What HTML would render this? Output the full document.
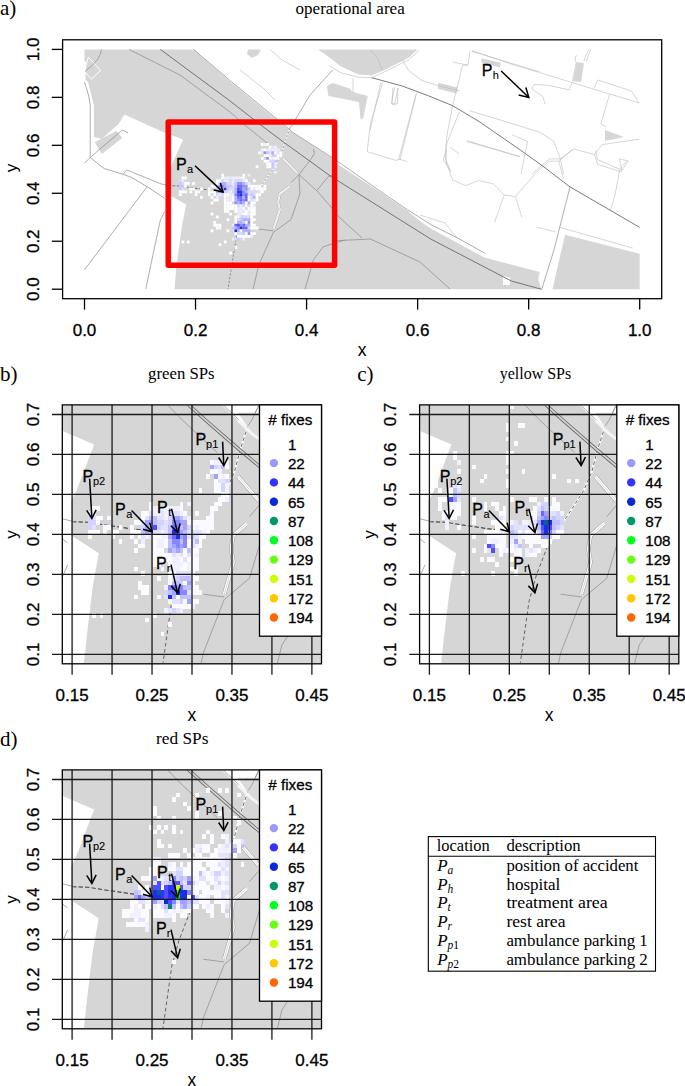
<!DOCTYPE html>
<html><head><meta charset="utf-8"><style>html,body{margin:0;padding:0;background:#fff;}svg{display:block;}</style></head>
<body><svg width="685" height="1086" viewBox="0 0 685 1086"><defs><g id="map"><polygon points="84.5,49.4 193.6,49.4 230.0,81.6 283.0,124.8 292.6,132.8 332.8,158.5 336.7,163.4 380.0,192.0 407.2,210.4 422.0,222.5 430.7,228.5 457.6,243.0 484.5,257.5 539.9,272.0 538.2,279.3 541.5,289.3 174.5,289.3 176.0,270.3 177.6,257.2 182.0,225.3 186.3,204.6 167.9,194.3 167.0,194.0 167.0,173.0 167.7,172.7 171.0,166.8 183.1,139.4 161.2,131.3 124.5,114.6 118.7,124.1 101.9,138.7 93.9,137.2 93.9,105.0 88.0,82.0 85.5,80.0 86.0,62.0 84.5,61.0" fill="#d6d6d6"/>
<polygon points="318.2,49.4 330.0,58.0 341.0,66.5 358.5,74.5 371.6,75.5 386.9,68.7 408.8,57.7 417.5,49.4" fill="#d6d6d6"/>
<polygon points="248.0,49.4 261.0,49.4 258.0,55.0 252.0,58.0 247.0,54.0" fill="#d6d6d6"/>
<polygon points="326.9,85.9 332.8,83.0 350.3,88.8 351.8,91.7 367.8,96.1 366.4,101.9 363.4,118.0 360.5,119.5 359.0,101.9 328.4,96.1" fill="#d6d6d6"/>
<polygon points="438.4,82.7 457.5,87.5 456.5,93.6 437.8,88.8" fill="#d6d6d6"/>
<polygon points="481.2,58.2 500.7,62.8 500.1,67.4 481.5,62.8" fill="#d6d6d6"/>
<polygon points="576.0,62.0 584.0,63.0 581.0,82.0 572.0,81.0" fill="#d6d6d6"/>
<polygon points="605.0,130.0 624.0,137.0 605.0,141.0" fill="#d6d6d6"/>
<polygon points="565.0,234.7 639.7,253.7 639.7,289.3 552.5,289.3" fill="#d6d6d6"/>
<polygon points="94.6,142.3 116.5,130.7 122.3,138.0 101.9,154.0" fill="#d6d6d6"/>
<polygon points="503.0,276.0 510.0,277.5 510.0,285.0 503.0,285.0" fill="#fff"/>
<polyline points="88.3,57.3 100.6,70.4 91.4,79.2 84.4,71.3 88.3,57.3" fill="none" stroke="#fff" stroke-width="1" vector-effect="non-scaling-stroke"/>
<polyline points="283.0,158.5 290.0,165.5 297.4,173.0" fill="none" stroke="#a0a0a0" stroke-width="2.8" stroke-linejoin="round"/>
<polyline points="283.0,158.5 290.0,165.5 297.4,173.0" fill="none" stroke="#fff" stroke-width="2.1" stroke-linejoin="round"/>
<polyline points="283.0,158.5 290.0,165.5 297.4,173.0" fill="none" stroke="#c8c8c8" stroke-width="0.5" stroke-linejoin="round"/>
<polyline points="289.4,186.6 279.8,193.9 278.2,201.9 279.8,209.9 276.6,219.6 273.4,229.2" fill="none" stroke="#a0a0a0" stroke-width="2.8" stroke-linejoin="round"/>
<polyline points="289.4,186.6 279.8,193.9 278.2,201.9 279.8,209.9 276.6,219.6 273.4,229.2" fill="none" stroke="#fff" stroke-width="2.1" stroke-linejoin="round"/>
<polyline points="289.4,186.6 279.8,193.9 278.2,201.9 279.8,209.9 276.6,219.6 273.4,229.2" fill="none" stroke="#c8c8c8" stroke-width="0.5" stroke-linejoin="round"/>
<polyline points="290.0,128.0 284.8,141.8 280.6,155.6 275.0,166.9 262.0,184.3 250.0,200.0" fill="none" stroke="#fff" stroke-width="1.3" stroke-linejoin="round"/>
<polyline points="290.0,128.0 284.8,141.8 280.6,155.6 275.0,166.9 262.0,184.3 250.0,200.0 242.0,218.0 237.0,233.3 231.0,270.0 228.0,289.3" fill="none" stroke="#505050" stroke-width="0.55" stroke-dasharray="2.2,1.6"/>
<polyline points="169.0,185.6 168.4,185.7 179.0,186.0 186.0,187.0 200.0,188.8 207.0,189.7 222.0,191.2" fill="none" stroke="#4a4a4a" stroke-width="0.7" stroke-dasharray="3,1.5"/>
<polyline points="330.0,66.3 341.0,72.8 358.5,77.2 371.6,77.7 386.9,70.7 408.8,59.7 419.8,49.9" fill="none" stroke="#b8b8b8" stroke-width="0.6" vector-effect="non-scaling-stroke"/>
<polyline points="370.5,49.9 377.1,57.5 382.6,70.7" fill="none" stroke="#b8b8b8" stroke-width="0.6" vector-effect="non-scaling-stroke"/>
<polyline points="402.3,59.7 408.8,70.7 422.0,80.5 439.5,86.0 459.8,91.0" fill="none" stroke="#b8b8b8" stroke-width="0.6" vector-effect="non-scaling-stroke"/>
<polyline points="470.1,50.9 467.9,65.2 452.6,61.9" fill="none" stroke="#b8b8b8" stroke-width="0.6" vector-effect="non-scaling-stroke"/>
<polyline points="467.9,65.2 462.5,65.2 459.2,79.4 452.6,105.7 446.6,137.0 445.5,158.9 451.0,172.0" fill="none" stroke="#b8b8b8" stroke-width="0.6" vector-effect="non-scaling-stroke"/>
<polyline points="353.0,78.3 353.0,92.6" fill="none" stroke="#b8b8b8" stroke-width="0.6" vector-effect="non-scaling-stroke"/>
<polyline points="382.6,82.7 370.5,123.2 367.2,151.7 395.7,160.4 400.1,159.3 406.6,161.5" fill="none" stroke="#b8b8b8" stroke-width="0.6" vector-effect="non-scaling-stroke"/>
<polyline points="416.5,93.6 400.1,159.3" fill="none" stroke="#b8b8b8" stroke-width="0.6" vector-effect="non-scaling-stroke"/>
<polyline points="394.6,87.1 391.3,103.5 394.6,104.6 397.9,88.2" fill="none" stroke="#b8b8b8" stroke-width="0.6" vector-effect="non-scaling-stroke"/>
<polyline points="459.2,112.3 446.1,145.1 446.1,162.6 452.6,180.1 465.8,185.6 478.5,180.5 493.0,183.7 504.2,195.0 515.5,196.6 525.1,185.3 536.3,172.5 549.2,161.2 558.8,161.2 571.7,150.0" fill="none" stroke="#b8b8b8" stroke-width="0.6" vector-effect="non-scaling-stroke"/>
<polyline points="450.4,147.3 459.2,153.9" fill="none" stroke="#b8b8b8" stroke-width="0.6" vector-effect="non-scaling-stroke"/>
<polyline points="466.8,140.7 520.0,156.7" fill="none" stroke="#b8b8b8" stroke-width="0.6" vector-effect="non-scaling-stroke"/>
<polyline points="469.6,110.7 520.0,126.0 540.7,132.6 553.8,141.3 560.4,158.9 563.6,174.2" fill="none" stroke="#b8b8b8" stroke-width="0.6" vector-effect="non-scaling-stroke"/>
<polyline points="466.3,141.3 520.0,156.7" fill="none" stroke="#b8b8b8" stroke-width="0.6" vector-effect="non-scaling-stroke"/>
<polyline points="380.9,82.2 370.0,130.4" fill="none" stroke="#b8b8b8" stroke-width="0.6" vector-effect="non-scaling-stroke"/>
<polyline points="393.0,87.7 392.0,104.0 397.4,104.0 398.0,88.0" fill="none" stroke="#b8b8b8" stroke-width="0.6" vector-effect="non-scaling-stroke"/>
<polyline points="416.0,94.3 398.5,160.0" fill="none" stroke="#b8b8b8" stroke-width="0.6" vector-effect="non-scaling-stroke"/>
<polyline points="471.8,50.5 510.0,63.6 639.2,103.0" fill="none" stroke="#b8b8b8" stroke-width="0.6" vector-effect="non-scaling-stroke"/>
<polyline points="597.6,80.0 631.5,91.0 639.2,103.0" fill="none" stroke="#b8b8b8" stroke-width="0.6" vector-effect="non-scaling-stroke"/>
<polyline points="597.6,80.0 594.3,87.7" fill="none" stroke="#b8b8b8" stroke-width="0.6" vector-effect="non-scaling-stroke"/>
<polyline points="572.4,82.2 569.1,89.9 549.4,85.5 534.1,84.4 531.9,88.8 542.8,96.5 545.0,104.1" fill="none" stroke="#b8b8b8" stroke-width="0.6" vector-effect="non-scaling-stroke"/>
<polyline points="609.6,94.3 600.9,123.8 606.3,127.1" fill="none" stroke="#b8b8b8" stroke-width="0.6" vector-effect="non-scaling-stroke"/>
<polyline points="560.4,158.9 573.5,149.0 594.3,154.5 602.0,144.6 639.2,139.2" fill="none" stroke="#b8b8b8" stroke-width="0.6" vector-effect="non-scaling-stroke"/>
<polyline points="594.3,154.5 597.6,164.3 621.7,172.0" fill="none" stroke="#b8b8b8" stroke-width="0.6" vector-effect="non-scaling-stroke"/>
<polyline points="619.5,158.9 628.2,161.0 621.7,170.9 619.5,158.9" fill="none" stroke="#b8b8b8" stroke-width="0.6" vector-effect="non-scaling-stroke"/>
<polyline points="512.2,134.8 527.5,141.3 521.0,174.2" fill="none" stroke="#b8b8b8" stroke-width="0.6" vector-effect="non-scaling-stroke"/>
<polyline points="531.9,174.2 549.4,158.9 560.4,158.9" fill="none" stroke="#b8b8b8" stroke-width="0.6" vector-effect="non-scaling-stroke"/>
<polyline points="446.4,150.0 443.2,159.6 449.6,169.3" fill="none" stroke="#b8b8b8" stroke-width="0.6" vector-effect="non-scaling-stroke"/>
<polyline points="504.2,195.0 494.6,222.3" fill="none" stroke="#b8b8b8" stroke-width="0.6" vector-effect="non-scaling-stroke"/>
<polyline points="515.5,196.6 521.9,217.4" fill="none" stroke="#b8b8b8" stroke-width="0.6" vector-effect="non-scaling-stroke"/>
<polyline points="558.8,161.2 563.6,178.9" fill="none" stroke="#b8b8b8" stroke-width="0.6" vector-effect="non-scaling-stroke"/>
<polyline points="595.7,150.0 597.4,159.6 619.8,169.3 626.3,161.2" fill="none" stroke="#b8b8b8" stroke-width="0.6" vector-effect="non-scaling-stroke"/>
<polyline points="619.8,169.3 615.0,195.0 610.2,211.0" fill="none" stroke="#b8b8b8" stroke-width="0.6" vector-effect="non-scaling-stroke"/>
<polyline points="536.3,227.1 555.6,231.9" fill="none" stroke="#b8b8b8" stroke-width="0.6" vector-effect="non-scaling-stroke"/>
<polyline points="558.8,227.1 632.7,248.0" fill="none" stroke="#b8b8b8" stroke-width="0.6" vector-effect="non-scaling-stroke"/>
<polyline points="472.0,51.5 540.0,72.0" fill="none" stroke="#b8b8b8" stroke-width="0.6" vector-effect="non-scaling-stroke"/>
<polyline points="575.5,62.0 575.0,57.0 577.0,55.5" fill="none" stroke="#b8b8b8" stroke-width="0.6" vector-effect="non-scaling-stroke"/>
<polyline points="584.0,61.0 586.0,55.0 589.0,49.4" fill="none" stroke="#b8b8b8" stroke-width="0.6" vector-effect="non-scaling-stroke"/>
<polyline points="586.5,61.5 588.5,55.0 591.0,49.4" fill="none" stroke="#b8b8b8" stroke-width="0.6" vector-effect="non-scaling-stroke"/>
<polyline points="420.0,215.0 445.0,223.0 457.0,238.0" fill="none" stroke="#b8b8b8" stroke-width="0.6" vector-effect="non-scaling-stroke"/>
<polyline points="270.0,49.4 282.0,60.0 300.0,70.0" fill="none" stroke="#b8b8b8" stroke-width="0.6" vector-effect="non-scaling-stroke"/>
<polyline points="240.0,70.0 263.0,88.0 275.0,100.0" fill="none" stroke="#b8b8b8" stroke-width="0.6" vector-effect="non-scaling-stroke"/>
<polyline points="193.6,49.4 230.0,80.5 283.0,124.0 292.6,132.3 332.8,158.0 380.0,191.0 407.2,209.5 430.7,224.5 457.6,238.0 484.5,253.0" fill="none" stroke="#8a8a8a" stroke-width="0.7" vector-effect="non-scaling-stroke"/>
<polyline points="332.8,69.8 310.0,95.0 296.3,118.0 292.6,124.8 290.0,128.0" fill="none" stroke="#8a8a8a" stroke-width="0.7" vector-effect="non-scaling-stroke"/>
<polyline points="90.2,140.0 90.2,157.5 84.4,163.4" fill="none" stroke="#8a8a8a" stroke-width="0.7" vector-effect="non-scaling-stroke"/>
<polyline points="90.2,157.5 104.1,168.5 123.1,174.3 131.1,177.2 147.2,186.7 164.7,198.4" fill="none" stroke="#8a8a8a" stroke-width="0.7" vector-effect="non-scaling-stroke"/>
<polyline points="147.2,186.7 84.4,269.9" fill="none" stroke="#8a8a8a" stroke-width="0.7" vector-effect="non-scaling-stroke"/>
<polyline points="123.1,174.3 126.7,169.9 161.0,183.9 169.0,185.6" fill="none" stroke="#8a8a8a" stroke-width="0.7" vector-effect="non-scaling-stroke"/>
<polyline points="164.7,211.5 160.3,220.3 145.7,289.0" fill="none" stroke="#8a8a8a" stroke-width="0.7" vector-effect="non-scaling-stroke"/>
<polyline points="90.2,157.5 122.3,130.0 128.2,133.0" fill="none" stroke="#8a8a8a" stroke-width="0.7" vector-effect="non-scaling-stroke"/>
<polyline points="84.5,82.0 88.5,95.0 90.2,105.0 90.2,140.0" fill="none" stroke="#8a8a8a" stroke-width="0.7" vector-effect="non-scaling-stroke"/>
<polyline points="570.0,186.9 554.0,249.9 541.8,289.0" fill="none" stroke="#8a8a8a" stroke-width="0.7" vector-effect="non-scaling-stroke"/>
<polyline points="129.0,49.4 180.0,75.0 230.0,112.0 244.5,124.8 268.5,144.1" fill="none" stroke="#8a8a8a" stroke-width="0.7" vector-effect="non-scaling-stroke"/>
<polyline points="313.5,148.9 314.3,153.7 310.3,160.1 299.0,174.6 291.0,182.6" fill="none" stroke="#8a8a8a" stroke-width="0.7" vector-effect="non-scaling-stroke"/>
<polyline points="299.0,174.6 299.9,193.9 291.0,219.6 273.4,232.4 258.9,264.5 253.0,289.3" fill="none" stroke="#8a8a8a" stroke-width="0.7" vector-effect="non-scaling-stroke"/>
<polyline points="299.0,174.6 316.7,190.7 328.0,203.5 340.0,218.0 362.0,238.0" fill="none" stroke="#8a8a8a" stroke-width="0.7" vector-effect="non-scaling-stroke"/>
<polyline points="316.7,190.7 328.0,177.0 336.7,173.0" fill="none" stroke="#8a8a8a" stroke-width="0.7" vector-effect="non-scaling-stroke"/>
<polyline points="273.4,230.8 258.9,229.2" fill="none" stroke="#8a8a8a" stroke-width="0.7" vector-effect="non-scaling-stroke"/>
<polyline points="345.0,240.0 332.8,243.7 323.1,246.9 313.5,259.7 305.0,289.3" fill="none" stroke="#8a8a8a" stroke-width="0.7" vector-effect="non-scaling-stroke"/>
<polyline points="336.7,240.7 370.3,239.0 420.0,262.0 450.0,289.0" fill="none" stroke="#8a8a8a" stroke-width="0.7" vector-effect="non-scaling-stroke"/>
<polyline points="101.5,49.4 100.5,54.0 97.5,59.5 92.0,65.5 85.0,71.5" fill="none" stroke="#8a8a8a" stroke-width="0.7" vector-effect="non-scaling-stroke"/>
<polyline points="160.3,49.4 230.0,100.9 260.5,124.8 283.0,141.7 332.8,177.8 336.7,180.0 430.7,239.0 511.3,281.0 541.5,289.3" fill="none" stroke="#5a5a5a" stroke-width="0.8" vector-effect="non-scaling-stroke"/>
<polyline points="371.6,77.7 402.3,86.0 428.5,95.8 452.6,105.7 480.0,122.1 490.4,129.3 520.3,150.0 542.8,166.1 570.0,186.9 639.7,227.4" fill="none" stroke="#5a5a5a" stroke-width="0.8" vector-effect="non-scaling-stroke"/></g><filter id="blurH" x="-5%" y="-5%" width="110%" height="110%"><feGaussianBlur stdDeviation="0.45"/></filter><filter id="blurA" x="-5%" y="-5%" width="110%" height="110%"><feGaussianBlur stdDeviation="0.3"/></filter><filter id="blurM" x="0" y="0" width="100%" height="100%"><feGaussianBlur stdDeviation="0.35"/></filter><clipPath id="clipA"><rect x="63.2" y="40.4" width="597.9" height="257.7"/></clipPath><clipPath id="clipB"><rect x="62.9" y="405.5" width="258" height="257.6"/></clipPath></defs>
<text x="0.00" y="15.00" font-family="'Liberation Serif', serif" font-size="21" text-anchor="start" font-weight="normal" font-style="normal" fill="#000">a)</text>
<text x="295.6" y="13.9" font-family="'Liberation Serif', serif" font-size="16.5" textLength="109.1" lengthAdjust="spacingAndGlyphs">operational area</text>
<g clip-path="url(#clipA)"><use href="#map"/><g filter="url(#blurA)"><rect x="178.91" y="179.27" width="2.70" height="2.83" fill="#d9d9ff"/><rect x="178.91" y="182.05" width="2.70" height="2.83" fill="#c7c7ff"/><rect x="178.91" y="184.84" width="2.70" height="2.83" fill="#c7c7ff"/><rect x="178.91" y="187.62" width="2.70" height="2.83" fill="#c7c7ff"/><rect x="178.91" y="190.41" width="2.70" height="2.83" fill="#ffffff"/><rect x="178.91" y="193.19" width="2.70" height="2.83" fill="#ffffff"/><rect x="181.56" y="176.49" width="2.70" height="2.83" fill="#ffffff"/><rect x="181.56" y="179.27" width="2.70" height="2.83" fill="#ececff"/><rect x="181.56" y="182.05" width="2.70" height="2.83" fill="#d9d9ff"/><rect x="181.56" y="184.84" width="2.70" height="2.83" fill="#c7c7ff"/><rect x="181.56" y="187.62" width="2.70" height="2.83" fill="#d9d9ff"/><rect x="181.56" y="190.41" width="2.70" height="2.83" fill="#ffffff"/><rect x="181.56" y="240.51" width="2.70" height="2.83" fill="#ffffff"/><rect x="184.20" y="176.49" width="2.70" height="2.83" fill="#ffffff"/><rect x="184.20" y="182.05" width="2.70" height="2.83" fill="#ffffff"/><rect x="184.20" y="184.84" width="2.70" height="2.83" fill="#ffffff"/><rect x="184.20" y="190.41" width="2.70" height="2.83" fill="#ffffff"/><rect x="186.85" y="182.05" width="2.70" height="2.83" fill="#ffffff"/><rect x="186.85" y="240.51" width="2.70" height="2.83" fill="#ffffff"/><rect x="189.50" y="187.62" width="2.70" height="2.83" fill="#ffffff"/><rect x="189.50" y="190.41" width="2.70" height="2.83" fill="#ffffff"/><rect x="192.14" y="182.05" width="2.70" height="2.83" fill="#ffffff"/><rect x="192.14" y="187.62" width="2.70" height="2.83" fill="#ffffff"/><rect x="194.79" y="190.41" width="2.70" height="2.83" fill="#ffffff"/><rect x="194.79" y="193.19" width="2.70" height="2.83" fill="#ffffff"/><rect x="197.44" y="190.41" width="2.70" height="2.83" fill="#ffffff"/><rect x="200.08" y="187.62" width="2.70" height="2.83" fill="#ffffff"/><rect x="200.08" y="195.97" width="2.70" height="2.83" fill="#ffffff"/><rect x="208.02" y="187.62" width="2.70" height="2.83" fill="#ffffff"/><rect x="208.02" y="190.41" width="2.70" height="2.83" fill="#ffffff"/><rect x="208.02" y="193.19" width="2.70" height="2.83" fill="#ffffff"/><rect x="210.67" y="184.84" width="2.70" height="2.83" fill="#ffffff"/><rect x="210.67" y="190.41" width="2.70" height="2.83" fill="#ffffff"/><rect x="210.67" y="195.97" width="2.70" height="2.83" fill="#ffffff"/><rect x="210.67" y="201.54" width="2.70" height="2.83" fill="#ffffff"/><rect x="210.67" y="212.68" width="2.70" height="2.83" fill="#ffffff"/><rect x="210.67" y="229.38" width="2.70" height="2.83" fill="#ffffff"/><rect x="213.31" y="184.84" width="2.70" height="2.83" fill="#ffffff"/><rect x="213.31" y="190.41" width="2.70" height="2.83" fill="#ffffff"/><rect x="213.31" y="193.19" width="2.70" height="2.83" fill="#ffffff"/><rect x="213.31" y="198.76" width="2.70" height="2.83" fill="#ffffff"/><rect x="213.31" y="221.03" width="2.70" height="2.83" fill="#ffffff"/><rect x="213.31" y="223.81" width="2.70" height="2.83" fill="#ffffff"/><rect x="215.96" y="179.27" width="2.70" height="2.83" fill="#ffffff"/><rect x="215.96" y="182.05" width="2.70" height="2.83" fill="#ffffff"/><rect x="215.96" y="184.84" width="2.70" height="2.83" fill="#d9d9ff"/><rect x="215.96" y="187.62" width="2.70" height="2.83" fill="#c7c7ff"/><rect x="215.96" y="190.41" width="2.70" height="2.83" fill="#afafff"/><rect x="215.96" y="193.19" width="2.70" height="2.83" fill="#d9d9ff"/><rect x="215.96" y="195.97" width="2.70" height="2.83" fill="#ececff"/><rect x="215.96" y="198.76" width="2.70" height="2.83" fill="#ffffff"/><rect x="215.96" y="215.46" width="2.70" height="2.83" fill="#ffffff"/><rect x="215.96" y="223.81" width="2.70" height="2.83" fill="#ffffff"/><rect x="215.96" y="226.59" width="2.70" height="2.83" fill="#ffffff"/><rect x="218.61" y="179.27" width="2.70" height="2.83" fill="#ffffff"/><rect x="218.61" y="182.05" width="2.70" height="2.83" fill="#d9d9ff"/><rect x="218.61" y="184.84" width="2.70" height="2.83" fill="#8b8bff"/><rect x="218.61" y="187.62" width="2.70" height="2.83" fill="#8b8bff"/><rect x="218.61" y="190.41" width="2.70" height="2.83" fill="#8b8bff"/><rect x="218.61" y="193.19" width="2.70" height="2.83" fill="#ececff"/><rect x="218.61" y="223.81" width="2.70" height="2.83" fill="#ffffff"/><rect x="218.61" y="226.59" width="2.70" height="2.83" fill="#ffffff"/><rect x="218.61" y="243.30" width="2.70" height="2.83" fill="#ffffff"/><rect x="221.25" y="173.70" width="2.70" height="2.83" fill="#ffffff"/><rect x="221.25" y="176.49" width="2.70" height="2.83" fill="#ffffff"/><rect x="221.25" y="179.27" width="2.70" height="2.83" fill="#d9d9ff"/><rect x="221.25" y="182.05" width="2.70" height="2.83" fill="#afafff"/><rect x="221.25" y="184.84" width="2.70" height="2.83" fill="#8b8bff"/><rect x="221.25" y="187.62" width="2.70" height="2.83" fill="#afafff"/><rect x="221.25" y="190.41" width="2.70" height="2.83" fill="#afafff"/><rect x="221.25" y="193.19" width="2.70" height="2.83" fill="#d9d9ff"/><rect x="223.90" y="176.49" width="2.70" height="2.83" fill="#ececff"/><rect x="223.90" y="179.27" width="2.70" height="2.83" fill="#ececff"/><rect x="223.90" y="182.05" width="2.70" height="2.83" fill="#afafff"/><rect x="223.90" y="184.84" width="2.70" height="2.83" fill="#afafff"/><rect x="223.90" y="187.62" width="2.70" height="2.83" fill="#2c32f8"/><rect x="223.90" y="190.41" width="2.70" height="2.83" fill="#d9d9ff"/><rect x="223.90" y="193.19" width="2.70" height="2.83" fill="#ffffff"/><rect x="223.90" y="195.97" width="2.70" height="2.83" fill="#ffffff"/><rect x="223.90" y="198.76" width="2.70" height="2.83" fill="#ffffff"/><rect x="223.90" y="201.54" width="2.70" height="2.83" fill="#ffffff"/><rect x="223.90" y="204.32" width="2.70" height="2.83" fill="#ffffff"/><rect x="223.90" y="207.11" width="2.70" height="2.83" fill="#ffffff"/><rect x="223.90" y="209.89" width="2.70" height="2.83" fill="#ffffff"/><rect x="223.90" y="240.51" width="2.70" height="2.83" fill="#ffffff"/><rect x="226.55" y="176.49" width="2.70" height="2.83" fill="#ececff"/><rect x="226.55" y="179.27" width="2.70" height="2.83" fill="#ececff"/><rect x="226.55" y="182.05" width="2.70" height="2.83" fill="#d9d9ff"/><rect x="226.55" y="184.84" width="2.70" height="2.83" fill="#c7c7ff"/><rect x="226.55" y="187.62" width="2.70" height="2.83" fill="#c7c7ff"/><rect x="226.55" y="190.41" width="2.70" height="2.83" fill="#d9d9ff"/><rect x="226.55" y="193.19" width="2.70" height="2.83" fill="#ffffff"/><rect x="226.55" y="195.97" width="2.70" height="2.83" fill="#ececff"/><rect x="226.55" y="198.76" width="2.70" height="2.83" fill="#ececff"/><rect x="226.55" y="201.54" width="2.70" height="2.83" fill="#ffffff"/><rect x="226.55" y="204.32" width="2.70" height="2.83" fill="#ffffff"/><rect x="226.55" y="207.11" width="2.70" height="2.83" fill="#ffffff"/><rect x="226.55" y="209.89" width="2.70" height="2.83" fill="#ffffff"/><rect x="226.55" y="218.24" width="2.70" height="2.83" fill="#ffffff"/><rect x="226.55" y="229.38" width="2.70" height="2.83" fill="#ffffff"/><rect x="229.19" y="176.49" width="2.70" height="2.83" fill="#ececff"/><rect x="229.19" y="179.27" width="2.70" height="2.83" fill="#d9d9ff"/><rect x="229.19" y="182.05" width="2.70" height="2.83" fill="#d9d9ff"/><rect x="229.19" y="184.84" width="2.70" height="2.83" fill="#c7c7ff"/><rect x="229.19" y="187.62" width="2.70" height="2.83" fill="#d9d9ff"/><rect x="229.19" y="190.41" width="2.70" height="2.83" fill="#ececff"/><rect x="229.19" y="193.19" width="2.70" height="2.83" fill="#ececff"/><rect x="229.19" y="195.97" width="2.70" height="2.83" fill="#ececff"/><rect x="229.19" y="198.76" width="2.70" height="2.83" fill="#ececff"/><rect x="229.19" y="201.54" width="2.70" height="2.83" fill="#ffffff"/><rect x="229.19" y="204.32" width="2.70" height="2.83" fill="#ffffff"/><rect x="229.19" y="207.11" width="2.70" height="2.83" fill="#ffffff"/><rect x="229.19" y="212.68" width="2.70" height="2.83" fill="#ffffff"/><rect x="229.19" y="251.65" width="2.70" height="2.83" fill="#ffffff"/><rect x="231.84" y="176.49" width="2.70" height="2.83" fill="#ececff"/><rect x="231.84" y="179.27" width="2.70" height="2.83" fill="#ececff"/><rect x="231.84" y="182.05" width="2.70" height="2.83" fill="#ececff"/><rect x="231.84" y="184.84" width="2.70" height="2.83" fill="#d9d9ff"/><rect x="231.84" y="187.62" width="2.70" height="2.83" fill="#d9d9ff"/><rect x="231.84" y="190.41" width="2.70" height="2.83" fill="#d9d9ff"/><rect x="231.84" y="193.19" width="2.70" height="2.83" fill="#ececff"/><rect x="231.84" y="195.97" width="2.70" height="2.83" fill="#ffffff"/><rect x="231.84" y="198.76" width="2.70" height="2.83" fill="#ffffff"/><rect x="231.84" y="204.32" width="2.70" height="2.83" fill="#ffffff"/><rect x="231.84" y="207.11" width="2.70" height="2.83" fill="#ffffff"/><rect x="231.84" y="223.81" width="2.70" height="2.83" fill="#ececff"/><rect x="231.84" y="226.59" width="2.70" height="2.83" fill="#c7c7ff"/><rect x="231.84" y="229.38" width="2.70" height="2.83" fill="#d9d9ff"/><rect x="231.84" y="237.73" width="2.70" height="2.83" fill="#ececff"/><rect x="234.49" y="176.49" width="2.70" height="2.83" fill="#ececff"/><rect x="234.49" y="179.27" width="2.70" height="2.83" fill="#d9d9ff"/><rect x="234.49" y="182.05" width="2.70" height="2.83" fill="#c7c7ff"/><rect x="234.49" y="184.84" width="2.70" height="2.83" fill="#c7c7ff"/><rect x="234.49" y="187.62" width="2.70" height="2.83" fill="#afafff"/><rect x="234.49" y="190.41" width="2.70" height="2.83" fill="#afafff"/><rect x="234.49" y="193.19" width="2.70" height="2.83" fill="#8b8bff"/><rect x="234.49" y="195.97" width="2.70" height="2.83" fill="#afafff"/><rect x="234.49" y="198.76" width="2.70" height="2.83" fill="#afafff"/><rect x="234.49" y="201.54" width="2.70" height="2.83" fill="#8b8bff"/><rect x="234.49" y="204.32" width="2.70" height="2.83" fill="#ffffff"/><rect x="234.49" y="207.11" width="2.70" height="2.83" fill="#ffffff"/><rect x="234.49" y="209.89" width="2.70" height="2.83" fill="#ffffff"/><rect x="234.49" y="215.46" width="2.70" height="2.83" fill="#ffffff"/><rect x="234.49" y="218.24" width="2.70" height="2.83" fill="#ffffff"/><rect x="234.49" y="221.03" width="2.70" height="2.83" fill="#ffffff"/><rect x="234.49" y="223.81" width="2.70" height="2.83" fill="#6868ff"/><rect x="234.49" y="226.59" width="2.70" height="2.83" fill="#afafff"/><rect x="234.49" y="229.38" width="2.70" height="2.83" fill="#182de4"/><rect x="234.49" y="232.16" width="2.70" height="2.83" fill="#ffffff"/><rect x="234.49" y="237.73" width="2.70" height="2.83" fill="#d9d9ff"/><rect x="234.49" y="246.08" width="2.70" height="2.83" fill="#ffffff"/><rect x="237.13" y="176.49" width="2.70" height="2.83" fill="#ececff"/><rect x="237.13" y="179.27" width="2.70" height="2.83" fill="#d9d9ff"/><rect x="237.13" y="182.05" width="2.70" height="2.83" fill="#8b8bff"/><rect x="237.13" y="184.84" width="2.70" height="2.83" fill="#6868ff"/><rect x="237.13" y="187.62" width="2.70" height="2.83" fill="#4646ff"/><rect x="237.13" y="190.41" width="2.70" height="2.83" fill="#182de4"/><rect x="237.13" y="193.19" width="2.70" height="2.83" fill="#4646ff"/><rect x="237.13" y="195.97" width="2.70" height="2.83" fill="#6868ff"/><rect x="237.13" y="198.76" width="2.70" height="2.83" fill="#8b8bff"/><rect x="237.13" y="201.54" width="2.70" height="2.83" fill="#afafff"/><rect x="237.13" y="204.32" width="2.70" height="2.83" fill="#d9d9ff"/><rect x="237.13" y="207.11" width="2.70" height="2.83" fill="#ececff"/><rect x="237.13" y="209.89" width="2.70" height="2.83" fill="#ececff"/><rect x="237.13" y="212.68" width="2.70" height="2.83" fill="#ececff"/><rect x="237.13" y="215.46" width="2.70" height="2.83" fill="#ffffff"/><rect x="237.13" y="218.24" width="2.70" height="2.83" fill="#d9d9ff"/><rect x="237.13" y="221.03" width="2.70" height="2.83" fill="#afafff"/><rect x="237.13" y="223.81" width="2.70" height="2.83" fill="#4646ff"/><rect x="237.13" y="226.59" width="2.70" height="2.83" fill="#8b8bff"/><rect x="237.13" y="229.38" width="2.70" height="2.83" fill="#afafff"/><rect x="237.13" y="232.16" width="2.70" height="2.83" fill="#d9d9ff"/><rect x="237.13" y="234.95" width="2.70" height="2.83" fill="#ffffff"/><rect x="237.13" y="237.73" width="2.70" height="2.83" fill="#c7c7ff"/><rect x="239.78" y="176.49" width="2.70" height="2.83" fill="#ececff"/><rect x="239.78" y="179.27" width="2.70" height="2.83" fill="#d9d9ff"/><rect x="239.78" y="182.05" width="2.70" height="2.83" fill="#8b8bff"/><rect x="239.78" y="184.84" width="2.70" height="2.83" fill="#6868ff"/><rect x="239.78" y="187.62" width="2.70" height="2.83" fill="#6868ff"/><rect x="239.78" y="190.41" width="2.70" height="2.83" fill="#2c32f8"/><rect x="239.78" y="193.19" width="2.70" height="2.83" fill="#182de4"/><rect x="239.78" y="195.97" width="2.70" height="2.83" fill="#6868ff"/><rect x="239.78" y="198.76" width="2.70" height="2.83" fill="#6868ff"/><rect x="239.78" y="201.54" width="2.70" height="2.83" fill="#8b8bff"/><rect x="239.78" y="204.32" width="2.70" height="2.83" fill="#ececff"/><rect x="239.78" y="207.11" width="2.70" height="2.83" fill="#ececff"/><rect x="239.78" y="209.89" width="2.70" height="2.83" fill="#ececff"/><rect x="239.78" y="212.68" width="2.70" height="2.83" fill="#ececff"/><rect x="239.78" y="215.46" width="2.70" height="2.83" fill="#d9d9ff"/><rect x="239.78" y="218.24" width="2.70" height="2.83" fill="#c7c7ff"/><rect x="239.78" y="221.03" width="2.70" height="2.83" fill="#afafff"/><rect x="239.78" y="223.81" width="2.70" height="2.83" fill="#8b8bff"/><rect x="239.78" y="226.59" width="2.70" height="2.83" fill="#182de4"/><rect x="239.78" y="229.38" width="2.70" height="2.83" fill="#ffffff"/><rect x="239.78" y="232.16" width="2.70" height="2.83" fill="#d9d9ff"/><rect x="239.78" y="234.95" width="2.70" height="2.83" fill="#ffffff"/><rect x="239.78" y="237.73" width="2.70" height="2.83" fill="#d9d9ff"/><rect x="242.43" y="173.70" width="2.70" height="2.83" fill="#ffffff"/><rect x="242.43" y="176.49" width="2.70" height="2.83" fill="#ffffff"/><rect x="242.43" y="179.27" width="2.70" height="2.83" fill="#ececff"/><rect x="242.43" y="182.05" width="2.70" height="2.83" fill="#afafff"/><rect x="242.43" y="184.84" width="2.70" height="2.83" fill="#8b8bff"/><rect x="242.43" y="187.62" width="2.70" height="2.83" fill="#afafff"/><rect x="242.43" y="190.41" width="2.70" height="2.83" fill="#8b8bff"/><rect x="242.43" y="193.19" width="2.70" height="2.83" fill="#8b8bff"/><rect x="242.43" y="195.97" width="2.70" height="2.83" fill="#afafff"/><rect x="242.43" y="198.76" width="2.70" height="2.83" fill="#8b8bff"/><rect x="242.43" y="201.54" width="2.70" height="2.83" fill="#afafff"/><rect x="242.43" y="204.32" width="2.70" height="2.83" fill="#d9d9ff"/><rect x="242.43" y="207.11" width="2.70" height="2.83" fill="#ffffff"/><rect x="242.43" y="209.89" width="2.70" height="2.83" fill="#ececff"/><rect x="242.43" y="212.68" width="2.70" height="2.83" fill="#ffffff"/><rect x="242.43" y="215.46" width="2.70" height="2.83" fill="#d9d9ff"/><rect x="242.43" y="218.24" width="2.70" height="2.83" fill="#afafff"/><rect x="242.43" y="221.03" width="2.70" height="2.83" fill="#c7c7ff"/><rect x="242.43" y="223.81" width="2.70" height="2.83" fill="#6868ff"/><rect x="242.43" y="226.59" width="2.70" height="2.83" fill="#6868ff"/><rect x="242.43" y="229.38" width="2.70" height="2.83" fill="#afafff"/><rect x="242.43" y="232.16" width="2.70" height="2.83" fill="#c7c7ff"/><rect x="242.43" y="234.95" width="2.70" height="2.83" fill="#ffffff"/><rect x="242.43" y="237.73" width="2.70" height="2.83" fill="#ececff"/><rect x="245.07" y="179.27" width="2.70" height="2.83" fill="#ffffff"/><rect x="245.07" y="182.05" width="2.70" height="2.83" fill="#d9d9ff"/><rect x="245.07" y="184.84" width="2.70" height="2.83" fill="#8b8bff"/><rect x="245.07" y="187.62" width="2.70" height="2.83" fill="#8b8bff"/><rect x="245.07" y="190.41" width="2.70" height="2.83" fill="#afafff"/><rect x="245.07" y="193.19" width="2.70" height="2.83" fill="#6868ff"/><rect x="245.07" y="195.97" width="2.70" height="2.83" fill="#6868ff"/><rect x="245.07" y="198.76" width="2.70" height="2.83" fill="#6868ff"/><rect x="245.07" y="201.54" width="2.70" height="2.83" fill="#ffffff"/><rect x="245.07" y="204.32" width="2.70" height="2.83" fill="#ffffff"/><rect x="245.07" y="207.11" width="2.70" height="2.83" fill="#d9d9ff"/><rect x="245.07" y="209.89" width="2.70" height="2.83" fill="#ffffff"/><rect x="245.07" y="212.68" width="2.70" height="2.83" fill="#ffffff"/><rect x="245.07" y="215.46" width="2.70" height="2.83" fill="#d9d9ff"/><rect x="245.07" y="218.24" width="2.70" height="2.83" fill="#afafff"/><rect x="245.07" y="221.03" width="2.70" height="2.83" fill="#ffffff"/><rect x="245.07" y="223.81" width="2.70" height="2.83" fill="#afafff"/><rect x="245.07" y="226.59" width="2.70" height="2.83" fill="#6868ff"/><rect x="245.07" y="229.38" width="2.70" height="2.83" fill="#afafff"/><rect x="245.07" y="232.16" width="2.70" height="2.83" fill="#ffffff"/><rect x="245.07" y="234.95" width="2.70" height="2.83" fill="#ffffff"/><rect x="247.72" y="173.70" width="2.70" height="2.83" fill="#ececff"/><rect x="247.72" y="182.05" width="2.70" height="2.83" fill="#ececff"/><rect x="247.72" y="184.84" width="2.70" height="2.83" fill="#ffffff"/><rect x="247.72" y="187.62" width="2.70" height="2.83" fill="#c7c7ff"/><rect x="247.72" y="190.41" width="2.70" height="2.83" fill="#d9d9ff"/><rect x="247.72" y="193.19" width="2.70" height="2.83" fill="#d9d9ff"/><rect x="247.72" y="195.97" width="2.70" height="2.83" fill="#ffffff"/><rect x="247.72" y="198.76" width="2.70" height="2.83" fill="#ffffff"/><rect x="247.72" y="201.54" width="2.70" height="2.83" fill="#afafff"/><rect x="247.72" y="204.32" width="2.70" height="2.83" fill="#d9d9ff"/><rect x="247.72" y="207.11" width="2.70" height="2.83" fill="#ffffff"/><rect x="247.72" y="209.89" width="2.70" height="2.83" fill="#ececff"/><rect x="247.72" y="212.68" width="2.70" height="2.83" fill="#ececff"/><rect x="247.72" y="215.46" width="2.70" height="2.83" fill="#d9d9ff"/><rect x="247.72" y="218.24" width="2.70" height="2.83" fill="#afafff"/><rect x="247.72" y="221.03" width="2.70" height="2.83" fill="#8b8bff"/><rect x="247.72" y="223.81" width="2.70" height="2.83" fill="#afafff"/><rect x="247.72" y="226.59" width="2.70" height="2.83" fill="#d9d9ff"/><rect x="247.72" y="229.38" width="2.70" height="2.83" fill="#afafff"/><rect x="247.72" y="232.16" width="2.70" height="2.83" fill="#8b8bff"/><rect x="247.72" y="234.95" width="2.70" height="2.83" fill="#ffffff"/><rect x="250.36" y="184.84" width="2.70" height="2.83" fill="#ffffff"/><rect x="250.36" y="187.62" width="2.70" height="2.83" fill="#ffffff"/><rect x="250.36" y="190.41" width="2.70" height="2.83" fill="#d9d9ff"/><rect x="250.36" y="193.19" width="2.70" height="2.83" fill="#c7c7ff"/><rect x="250.36" y="195.97" width="2.70" height="2.83" fill="#d9d9ff"/><rect x="250.36" y="198.76" width="2.70" height="2.83" fill="#d9d9ff"/><rect x="250.36" y="201.54" width="2.70" height="2.83" fill="#ffffff"/><rect x="250.36" y="204.32" width="2.70" height="2.83" fill="#ffffff"/><rect x="250.36" y="207.11" width="2.70" height="2.83" fill="#ffffff"/><rect x="250.36" y="209.89" width="2.70" height="2.83" fill="#ffffff"/><rect x="250.36" y="212.68" width="2.70" height="2.83" fill="#ffffff"/><rect x="250.36" y="215.46" width="2.70" height="2.83" fill="#ffffff"/><rect x="250.36" y="218.24" width="2.70" height="2.83" fill="#ffffff"/><rect x="250.36" y="221.03" width="2.70" height="2.83" fill="#ffffff"/><rect x="250.36" y="223.81" width="2.70" height="2.83" fill="#ffffff"/><rect x="250.36" y="226.59" width="2.70" height="2.83" fill="#ffffff"/><rect x="250.36" y="232.16" width="2.70" height="2.83" fill="#ffffff"/><rect x="250.36" y="234.95" width="2.70" height="2.83" fill="#ececff"/><rect x="253.01" y="179.27" width="2.70" height="2.83" fill="#ffffff"/><rect x="253.01" y="184.84" width="2.70" height="2.83" fill="#ffffff"/><rect x="253.01" y="187.62" width="2.70" height="2.83" fill="#ececff"/><rect x="253.01" y="190.41" width="2.70" height="2.83" fill="#d9d9ff"/><rect x="253.01" y="193.19" width="2.70" height="2.83" fill="#d9d9ff"/><rect x="253.01" y="195.97" width="2.70" height="2.83" fill="#afafff"/><rect x="253.01" y="198.76" width="2.70" height="2.83" fill="#ececff"/><rect x="253.01" y="201.54" width="2.70" height="2.83" fill="#ffffff"/><rect x="253.01" y="204.32" width="2.70" height="2.83" fill="#ececff"/><rect x="253.01" y="207.11" width="2.70" height="2.83" fill="#ffffff"/><rect x="253.01" y="209.89" width="2.70" height="2.83" fill="#ffffff"/><rect x="253.01" y="212.68" width="2.70" height="2.83" fill="#ffffff"/><rect x="253.01" y="218.24" width="2.70" height="2.83" fill="#ffffff"/><rect x="253.01" y="223.81" width="2.70" height="2.83" fill="#ffffff"/><rect x="253.01" y="226.59" width="2.70" height="2.83" fill="#ffffff"/><rect x="253.01" y="232.16" width="2.70" height="2.83" fill="#ffffff"/><rect x="255.66" y="165.35" width="2.70" height="2.83" fill="#ffffff"/><rect x="255.66" y="184.84" width="2.70" height="2.83" fill="#ffffff"/><rect x="255.66" y="187.62" width="2.70" height="2.83" fill="#ffffff"/><rect x="255.66" y="190.41" width="2.70" height="2.83" fill="#d9d9ff"/><rect x="255.66" y="193.19" width="2.70" height="2.83" fill="#ffffff"/><rect x="255.66" y="195.97" width="2.70" height="2.83" fill="#ffffff"/><rect x="255.66" y="198.76" width="2.70" height="2.83" fill="#ffffff"/><rect x="255.66" y="226.59" width="2.70" height="2.83" fill="#ffffff"/><rect x="258.30" y="151.43" width="2.70" height="2.83" fill="#ffffff"/><rect x="258.30" y="184.84" width="2.70" height="2.83" fill="#ffffff"/><rect x="258.30" y="187.62" width="2.70" height="2.83" fill="#ffffff"/><rect x="258.30" y="190.41" width="2.70" height="2.83" fill="#ececff"/><rect x="258.30" y="193.19" width="2.70" height="2.83" fill="#ffffff"/><rect x="260.95" y="143.08" width="2.70" height="2.83" fill="#ffffff"/><rect x="260.95" y="148.65" width="2.70" height="2.83" fill="#f0f0ff"/><rect x="260.95" y="151.43" width="2.70" height="2.83" fill="#e2e2ff"/><rect x="260.95" y="157.00" width="2.70" height="2.83" fill="#ffffff"/><rect x="260.95" y="187.62" width="2.70" height="2.83" fill="#ffffff"/><rect x="260.95" y="190.41" width="2.70" height="2.83" fill="#ffffff"/><rect x="263.60" y="143.08" width="2.70" height="2.83" fill="#f0f0ff"/><rect x="263.60" y="148.65" width="2.70" height="2.83" fill="#ffffff"/><rect x="263.60" y="151.43" width="2.70" height="2.83" fill="#8b8bff"/><rect x="263.60" y="154.22" width="2.70" height="2.83" fill="#ffffff"/><rect x="263.60" y="159.78" width="2.70" height="2.83" fill="#ffffff"/><rect x="263.60" y="184.84" width="2.70" height="2.83" fill="#ffffff"/><rect x="263.60" y="187.62" width="2.70" height="2.83" fill="#ffffff"/><rect x="266.24" y="143.08" width="2.70" height="2.83" fill="#ffffff"/><rect x="266.24" y="148.65" width="2.70" height="2.83" fill="#ececff"/><rect x="266.24" y="151.43" width="2.70" height="2.83" fill="#c7c7ff"/><rect x="266.24" y="154.22" width="2.70" height="2.83" fill="#ffffff"/><rect x="266.24" y="157.00" width="2.70" height="2.83" fill="#8b8bff"/><rect x="266.24" y="159.78" width="2.70" height="2.83" fill="#ffffff"/><rect x="266.24" y="162.57" width="2.70" height="2.83" fill="#ffffff"/><rect x="266.24" y="165.35" width="2.70" height="2.83" fill="#ffffff"/><rect x="268.89" y="145.87" width="2.70" height="2.83" fill="#ffffff"/><rect x="268.89" y="148.65" width="2.70" height="2.83" fill="#ececff"/><rect x="268.89" y="151.43" width="2.70" height="2.83" fill="#d9d9ff"/><rect x="268.89" y="154.22" width="2.70" height="2.83" fill="#ececff"/><rect x="268.89" y="157.00" width="2.70" height="2.83" fill="#ffffff"/><rect x="268.89" y="159.78" width="2.70" height="2.83" fill="#d9d9ff"/><rect x="268.89" y="162.57" width="2.70" height="2.83" fill="#ffffff"/><rect x="268.89" y="165.35" width="2.70" height="2.83" fill="#ffffff"/><rect x="271.54" y="145.87" width="2.70" height="2.83" fill="#e2e2ff"/><rect x="271.54" y="148.65" width="2.70" height="2.83" fill="#ececff"/><rect x="271.54" y="151.43" width="2.70" height="2.83" fill="#afafff"/><rect x="271.54" y="157.00" width="2.70" height="2.83" fill="#ececff"/><rect x="271.54" y="159.78" width="2.70" height="2.83" fill="#d9d9ff"/><rect x="271.54" y="162.57" width="2.70" height="2.83" fill="#c7c7ff"/><rect x="271.54" y="165.35" width="2.70" height="2.83" fill="#c7c7ff"/><rect x="274.18" y="145.87" width="2.70" height="2.83" fill="#f0f0ff"/><rect x="274.18" y="148.65" width="2.70" height="2.83" fill="#ececff"/><rect x="274.18" y="151.43" width="2.70" height="2.83" fill="#ffffff"/><rect x="274.18" y="157.00" width="2.70" height="2.83" fill="#ffffff"/><rect x="274.18" y="159.78" width="2.70" height="2.83" fill="#c7c7ff"/><rect x="274.18" y="162.57" width="2.70" height="2.83" fill="#ececff"/><rect x="274.18" y="165.35" width="2.70" height="2.83" fill="#ececff"/><rect x="274.18" y="170.92" width="2.70" height="2.83" fill="#ececff"/><rect x="276.83" y="148.65" width="2.70" height="2.83" fill="#f0f0ff"/><rect x="276.83" y="151.43" width="2.70" height="2.83" fill="#e2e2ff"/><rect x="276.83" y="154.22" width="2.70" height="2.83" fill="#ffffff"/><rect x="276.83" y="157.00" width="2.70" height="2.83" fill="#f0f0ff"/><rect x="279.48" y="151.43" width="2.70" height="2.83" fill="#ffffff"/><rect x="279.48" y="154.22" width="2.70" height="2.83" fill="#ffffff"/></g></g>
<rect x="168.2" y="122" width="166.4" height="143.2" fill="none" stroke="#ff0000" stroke-width="5.5" stroke-linejoin="round"/>
<text x="176.00" y="169.90" font-family="'Liberation Sans', sans-serif" font-size="16" stroke="#000" stroke-width="0.3">P</text><text x="186.90" y="173.40" font-family="'Liberation Sans', sans-serif" font-size="11" stroke="#000" stroke-width="0.1">a</text><line x1="195.00" y1="165.80" x2="223.10" y2="192.10" stroke="#000" stroke-width="1.5"/><polyline points="213.85,189.95 223.10,192.10 220.34,183.01" fill="none" stroke="#000" stroke-width="1.5"/>
<text x="481.70" y="75.80" font-family="'Liberation Sans', sans-serif" font-size="16" stroke="#000" stroke-width="0.3">P</text><text x="492.80" y="78.80" font-family="'Liberation Sans', sans-serif" font-size="11" stroke="#000" stroke-width="0.1">h</text><line x1="501.20" y1="71.00" x2="528.80" y2="97.50" stroke="#000" stroke-width="1.5"/><polyline points="518.60,94.99 528.80,97.50 525.88,87.42" fill="none" stroke="#000" stroke-width="1.5"/>
<rect x="62.6" y="39.8" width="599.1" height="258.9" fill="none" stroke="#000" stroke-width="1.3"/>
<line x1="84.50" y1="298.7" x2="84.50" y2="309.6" stroke="#000" stroke-width="1.3"/>
<text x="84.50" y="335.90" font-family="'Liberation Sans', sans-serif" font-size="17" text-anchor="middle" font-weight="normal" font-style="normal" fill="#000" stroke="#000" stroke-width="0.3">0.0</text>
<line x1="51.8" y1="289.20" x2="62.6" y2="289.20" stroke="#000" stroke-width="1.3"/>
<text x="38.80" y="289.20" font-family="'Liberation Sans', sans-serif" font-size="17" text-anchor="middle" font-weight="normal" font-style="normal" fill="#000" transform="rotate(-90 38.8 289.2)" stroke="#000" stroke-width="0.3">0.0</text>
<line x1="195.54" y1="298.7" x2="195.54" y2="309.6" stroke="#000" stroke-width="1.3"/>
<text x="195.54" y="335.90" font-family="'Liberation Sans', sans-serif" font-size="17" text-anchor="middle" font-weight="normal" font-style="normal" fill="#000" stroke="#000" stroke-width="0.3">0.2</text>
<line x1="51.8" y1="241.24" x2="62.6" y2="241.24" stroke="#000" stroke-width="1.3"/>
<text x="38.80" y="241.24" font-family="'Liberation Sans', sans-serif" font-size="17" text-anchor="middle" font-weight="normal" font-style="normal" fill="#000" transform="rotate(-90 38.8 241.23999999999998)" stroke="#000" stroke-width="0.3">0.2</text>
<line x1="306.58" y1="298.7" x2="306.58" y2="309.6" stroke="#000" stroke-width="1.3"/>
<text x="306.58" y="335.90" font-family="'Liberation Sans', sans-serif" font-size="17" text-anchor="middle" font-weight="normal" font-style="normal" fill="#000" stroke="#000" stroke-width="0.3">0.4</text>
<line x1="51.8" y1="193.28" x2="62.6" y2="193.28" stroke="#000" stroke-width="1.3"/>
<text x="38.80" y="193.28" font-family="'Liberation Sans', sans-serif" font-size="17" text-anchor="middle" font-weight="normal" font-style="normal" fill="#000" transform="rotate(-90 38.8 193.27999999999997)" stroke="#000" stroke-width="0.3">0.4</text>
<line x1="417.62" y1="298.7" x2="417.62" y2="309.6" stroke="#000" stroke-width="1.3"/>
<text x="417.62" y="335.90" font-family="'Liberation Sans', sans-serif" font-size="17" text-anchor="middle" font-weight="normal" font-style="normal" fill="#000" stroke="#000" stroke-width="0.3">0.6</text>
<line x1="51.8" y1="145.32" x2="62.6" y2="145.32" stroke="#000" stroke-width="1.3"/>
<text x="38.80" y="145.32" font-family="'Liberation Sans', sans-serif" font-size="17" text-anchor="middle" font-weight="normal" font-style="normal" fill="#000" transform="rotate(-90 38.8 145.31999999999996)" stroke="#000" stroke-width="0.3">0.6</text>
<line x1="528.66" y1="298.7" x2="528.66" y2="309.6" stroke="#000" stroke-width="1.3"/>
<text x="528.66" y="335.90" font-family="'Liberation Sans', sans-serif" font-size="17" text-anchor="middle" font-weight="normal" font-style="normal" fill="#000" stroke="#000" stroke-width="0.3">0.8</text>
<line x1="51.8" y1="97.36" x2="62.6" y2="97.36" stroke="#000" stroke-width="1.3"/>
<text x="38.80" y="97.36" font-family="'Liberation Sans', sans-serif" font-size="17" text-anchor="middle" font-weight="normal" font-style="normal" fill="#000" transform="rotate(-90 38.8 97.35999999999996)" stroke="#000" stroke-width="0.3">0.8</text>
<line x1="639.70" y1="298.7" x2="639.70" y2="309.6" stroke="#000" stroke-width="1.3"/>
<text x="639.70" y="335.90" font-family="'Liberation Sans', sans-serif" font-size="17" text-anchor="middle" font-weight="normal" font-style="normal" fill="#000" stroke="#000" stroke-width="0.3">1.0</text>
<line x1="51.8" y1="49.40" x2="62.6" y2="49.40" stroke="#000" stroke-width="1.3"/>
<text x="38.80" y="49.40" font-family="'Liberation Sans', sans-serif" font-size="17" text-anchor="middle" font-weight="normal" font-style="normal" fill="#000" transform="rotate(-90 38.8 49.39999999999998)" stroke="#000" stroke-width="0.3">1.0</text>
<text x="362.20" y="355.90" font-family="'Liberation Sans', sans-serif" font-size="17.5" text-anchor="middle" font-weight="normal" font-style="normal" fill="#000" >x</text>
<text x="17.30" y="168.00" font-family="'Liberation Sans', sans-serif" font-size="17" text-anchor="middle" font-weight="normal" font-style="normal" fill="#000" transform="rotate(-90 17.3 168)" >y</text>
<text x="0.00" y="380.60" font-family="'Liberation Serif', serif" font-size="21" text-anchor="start" font-weight="normal" font-style="normal" fill="#000">b)</text>
<text x="148.1" y="379.40" font-family="'Liberation Serif', serif" font-size="16.5" textLength="66.5" lengthAdjust="spacingAndGlyphs">green SPs</text>
<g transform="translate(0,0)">
<g clip-path="url(#clipB)"><g filter="url(#blurM)"><use href="#map" transform="matrix(1.43966,0,0,1.66681,-169.45,212.23)"/><polygon points="238.0,412.7 327.2,412.7 327.2,488.9 309.7,476.4 251.8,433.6" fill="#dadada"/><polyline points="238.0,420.2 251.8,433.6 309.7,476.4" fill="none" stroke="#f4f4f4" stroke-width="3"/><polyline points="61.3,294.6 161.7,380.4 205.6,420.2 238.0,448.4 309.7,508.6 315.3,512.3 450.6,610.6 566.6,680.6 610.1,694.4" fill="none" stroke="#6a6a6a" stroke-width="3.4"/><polyline points="61.3,294.6 161.7,380.4 205.6,420.2 238.0,448.4 309.7,508.6 315.3,512.3 450.6,610.6 566.6,680.6 610.1,694.4" fill="none" stroke="#d4d4d4" stroke-width="1.8"/><polyline points="309.7,328.6 276.8,370.6 257.1,408.9 251.8,420.2 248.1,425.6" fill="none" stroke="#8a8a8a" stroke-width="0.7"/></g>
<g filter="url(#blurH)"><g shape-rendering="crispEdges"><rect x="88.12" y="511.04" width="3.86" height="4.69" fill="#e2e2ff"/><rect x="88.12" y="515.68" width="3.86" height="4.69" fill="#d3d3ff"/><rect x="88.12" y="520.32" width="3.86" height="4.69" fill="#d3d3ff"/><rect x="88.12" y="524.96" width="3.86" height="4.69" fill="#d3d3ff"/><rect x="88.12" y="529.60" width="3.86" height="4.69" fill="#fafaff"/><rect x="88.12" y="534.24" width="3.86" height="4.69" fill="#fafaff"/><rect x="91.93" y="506.40" width="3.86" height="4.69" fill="#fafaff"/><rect x="91.93" y="511.04" width="3.86" height="4.69" fill="#f0f0ff"/><rect x="91.93" y="515.68" width="3.86" height="4.69" fill="#e2e2ff"/><rect x="91.93" y="520.32" width="3.86" height="4.69" fill="#d3d3ff"/><rect x="91.93" y="524.96" width="3.86" height="4.69" fill="#e2e2ff"/><rect x="91.93" y="529.60" width="3.86" height="4.69" fill="#fafaff"/><rect x="91.93" y="613.12" width="3.86" height="4.69" fill="#fafaff"/><rect x="95.74" y="506.40" width="3.86" height="4.69" fill="#fafaff"/><rect x="95.74" y="515.68" width="3.86" height="4.69" fill="#fafaff"/><rect x="95.74" y="520.32" width="3.86" height="4.69" fill="#fafaff"/><rect x="95.74" y="529.60" width="3.86" height="4.69" fill="#fafaff"/><rect x="99.55" y="515.68" width="3.86" height="4.69" fill="#fafaff"/><rect x="99.55" y="613.12" width="3.86" height="4.69" fill="#fafaff"/><rect x="103.36" y="524.96" width="3.86" height="4.69" fill="#fafaff"/><rect x="103.36" y="529.60" width="3.86" height="4.69" fill="#fafaff"/><rect x="107.17" y="515.68" width="3.86" height="4.69" fill="#fafaff"/><rect x="107.17" y="524.96" width="3.86" height="4.69" fill="#fafaff"/><rect x="110.98" y="529.60" width="3.86" height="4.69" fill="#fafaff"/><rect x="110.98" y="534.24" width="3.86" height="4.69" fill="#fafaff"/><rect x="114.79" y="529.60" width="3.86" height="4.69" fill="#fafaff"/><rect x="118.60" y="524.96" width="3.86" height="4.69" fill="#fafaff"/><rect x="118.60" y="538.88" width="3.86" height="4.69" fill="#fafaff"/><rect x="130.03" y="524.96" width="3.86" height="4.69" fill="#fafaff"/><rect x="130.03" y="529.60" width="3.86" height="4.69" fill="#fafaff"/><rect x="130.03" y="534.24" width="3.86" height="4.69" fill="#fafaff"/><rect x="133.84" y="520.32" width="3.86" height="4.69" fill="#fafaff"/><rect x="133.84" y="529.60" width="3.86" height="4.69" fill="#fafaff"/><rect x="133.84" y="538.88" width="3.86" height="4.69" fill="#fafaff"/><rect x="133.84" y="548.16" width="3.86" height="4.69" fill="#fafaff"/><rect x="133.84" y="566.72" width="3.86" height="4.69" fill="#fafaff"/><rect x="133.84" y="594.56" width="3.86" height="4.69" fill="#fafaff"/><rect x="137.65" y="520.32" width="3.86" height="4.69" fill="#fafaff"/><rect x="137.65" y="529.60" width="3.86" height="4.69" fill="#fafaff"/><rect x="137.65" y="534.24" width="3.86" height="4.69" fill="#fafaff"/><rect x="137.65" y="543.52" width="3.86" height="4.69" fill="#fafaff"/><rect x="137.65" y="580.64" width="3.86" height="4.69" fill="#fafaff"/><rect x="137.65" y="585.28" width="3.86" height="4.69" fill="#fafaff"/><rect x="141.46" y="511.04" width="3.86" height="4.69" fill="#fafaff"/><rect x="141.46" y="515.68" width="3.86" height="4.69" fill="#fafaff"/><rect x="141.46" y="520.32" width="3.86" height="4.69" fill="#e2e2ff"/><rect x="141.46" y="524.96" width="3.86" height="4.69" fill="#d3d3ff"/><rect x="141.46" y="529.60" width="3.86" height="4.69" fill="#c0c0ff"/><rect x="141.46" y="534.24" width="3.86" height="4.69" fill="#e2e2ff"/><rect x="141.46" y="538.88" width="3.86" height="4.69" fill="#f0f0ff"/><rect x="141.46" y="543.52" width="3.86" height="4.69" fill="#fafaff"/><rect x="141.46" y="571.36" width="3.86" height="4.69" fill="#fafaff"/><rect x="141.46" y="585.28" width="3.86" height="4.69" fill="#fafaff"/><rect x="141.46" y="589.92" width="3.86" height="4.69" fill="#fafaff"/><rect x="145.27" y="511.04" width="3.86" height="4.69" fill="#fafaff"/><rect x="145.27" y="515.68" width="3.86" height="4.69" fill="#e2e2ff"/><rect x="145.27" y="520.32" width="3.86" height="4.69" fill="#a3a3ff"/><rect x="145.27" y="524.96" width="3.86" height="4.69" fill="#a3a3ff"/><rect x="145.27" y="529.60" width="3.86" height="4.69" fill="#a3a3ff"/><rect x="145.27" y="534.24" width="3.86" height="4.69" fill="#f0f0ff"/><rect x="145.27" y="585.28" width="3.86" height="4.69" fill="#fafaff"/><rect x="145.27" y="589.92" width="3.86" height="4.69" fill="#fafaff"/><rect x="145.27" y="617.76" width="3.86" height="4.69" fill="#fafaff"/><rect x="149.08" y="501.76" width="3.86" height="4.69" fill="#fafaff"/><rect x="149.08" y="506.40" width="3.86" height="4.69" fill="#fafaff"/><rect x="149.08" y="511.04" width="3.86" height="4.69" fill="#e2e2ff"/><rect x="149.08" y="515.68" width="3.86" height="4.69" fill="#c0c0ff"/><rect x="149.08" y="520.32" width="3.86" height="4.69" fill="#a3a3ff"/><rect x="149.08" y="524.96" width="3.86" height="4.69" fill="#c0c0ff"/><rect x="149.08" y="529.60" width="3.86" height="4.69" fill="#c0c0ff"/><rect x="149.08" y="534.24" width="3.86" height="4.69" fill="#e2e2ff"/><rect x="152.89" y="506.40" width="3.86" height="4.69" fill="#f0f0ff"/><rect x="152.89" y="511.04" width="3.86" height="4.69" fill="#f0f0ff"/><rect x="152.89" y="515.68" width="3.86" height="4.69" fill="#c0c0ff"/><rect x="152.89" y="520.32" width="3.86" height="4.69" fill="#c0c0ff"/><rect x="152.89" y="524.96" width="3.86" height="4.69" fill="#4f4fff"/><rect x="152.89" y="529.60" width="3.86" height="4.69" fill="#e2e2ff"/><rect x="152.89" y="534.24" width="3.86" height="4.69" fill="#fafaff"/><rect x="152.89" y="538.88" width="3.86" height="4.69" fill="#fafaff"/><rect x="152.89" y="543.52" width="3.86" height="4.69" fill="#fafaff"/><rect x="152.89" y="548.16" width="3.86" height="4.69" fill="#fafaff"/><rect x="152.89" y="552.80" width="3.86" height="4.69" fill="#fafaff"/><rect x="152.89" y="557.44" width="3.86" height="4.69" fill="#fafaff"/><rect x="152.89" y="562.08" width="3.86" height="4.69" fill="#fafaff"/><rect x="152.89" y="613.12" width="3.86" height="4.69" fill="#fafaff"/><rect x="156.70" y="506.40" width="3.86" height="4.69" fill="#f0f0ff"/><rect x="156.70" y="511.04" width="3.86" height="4.69" fill="#f0f0ff"/><rect x="156.70" y="515.68" width="3.86" height="4.69" fill="#e2e2ff"/><rect x="156.70" y="520.32" width="3.86" height="4.69" fill="#d3d3ff"/><rect x="156.70" y="524.96" width="3.86" height="4.69" fill="#d3d3ff"/><rect x="156.70" y="529.60" width="3.86" height="4.69" fill="#e2e2ff"/><rect x="156.70" y="534.24" width="3.86" height="4.69" fill="#fafaff"/><rect x="156.70" y="538.88" width="3.86" height="4.69" fill="#f0f0ff"/><rect x="156.70" y="543.52" width="3.86" height="4.69" fill="#f0f0ff"/><rect x="156.70" y="548.16" width="3.86" height="4.69" fill="#fafaff"/><rect x="156.70" y="552.80" width="3.86" height="4.69" fill="#fafaff"/><rect x="156.70" y="557.44" width="3.86" height="4.69" fill="#fafaff"/><rect x="156.70" y="562.08" width="3.86" height="4.69" fill="#fafaff"/><rect x="156.70" y="576.00" width="3.86" height="4.69" fill="#fafaff"/><rect x="156.70" y="594.56" width="3.86" height="4.69" fill="#fafaff"/><rect x="160.51" y="506.40" width="3.86" height="4.69" fill="#f0f0ff"/><rect x="160.51" y="511.04" width="3.86" height="4.69" fill="#e2e2ff"/><rect x="160.51" y="515.68" width="3.86" height="4.69" fill="#e2e2ff"/><rect x="160.51" y="520.32" width="3.86" height="4.69" fill="#d3d3ff"/><rect x="160.51" y="524.96" width="3.86" height="4.69" fill="#e2e2ff"/><rect x="160.51" y="529.60" width="3.86" height="4.69" fill="#f0f0ff"/><rect x="160.51" y="534.24" width="3.86" height="4.69" fill="#f0f0ff"/><rect x="160.51" y="538.88" width="3.86" height="4.69" fill="#f0f0ff"/><rect x="160.51" y="543.52" width="3.86" height="4.69" fill="#f0f0ff"/><rect x="160.51" y="548.16" width="3.86" height="4.69" fill="#fafaff"/><rect x="160.51" y="552.80" width="3.86" height="4.69" fill="#fafaff"/><rect x="160.51" y="557.44" width="3.86" height="4.69" fill="#fafaff"/><rect x="160.51" y="566.72" width="3.86" height="4.69" fill="#fafaff"/><rect x="160.51" y="631.68" width="3.86" height="4.69" fill="#fafaff"/><rect x="164.32" y="506.40" width="3.86" height="4.69" fill="#f0f0ff"/><rect x="164.32" y="511.04" width="3.86" height="4.69" fill="#f0f0ff"/><rect x="164.32" y="515.68" width="3.86" height="4.69" fill="#f0f0ff"/><rect x="164.32" y="520.32" width="3.86" height="4.69" fill="#e2e2ff"/><rect x="164.32" y="524.96" width="3.86" height="4.69" fill="#e2e2ff"/><rect x="164.32" y="529.60" width="3.86" height="4.69" fill="#e2e2ff"/><rect x="164.32" y="534.24" width="3.86" height="4.69" fill="#f0f0ff"/><rect x="164.32" y="538.88" width="3.86" height="4.69" fill="#fafaff"/><rect x="164.32" y="543.52" width="3.86" height="4.69" fill="#fafaff"/><rect x="164.32" y="552.80" width="3.86" height="4.69" fill="#fafaff"/><rect x="164.32" y="557.44" width="3.86" height="4.69" fill="#fafaff"/><rect x="164.32" y="585.28" width="3.86" height="4.69" fill="#f0f0ff"/><rect x="164.32" y="589.92" width="3.86" height="4.69" fill="#d3d3ff"/><rect x="164.32" y="594.56" width="3.86" height="4.69" fill="#e2e2ff"/><rect x="164.32" y="608.48" width="3.86" height="4.69" fill="#f0f0ff"/><rect x="168.13" y="506.40" width="3.86" height="4.69" fill="#f0f0ff"/><rect x="168.13" y="511.04" width="3.86" height="4.69" fill="#e2e2ff"/><rect x="168.13" y="515.68" width="3.86" height="4.69" fill="#d3d3ff"/><rect x="168.13" y="520.32" width="3.86" height="4.69" fill="#d3d3ff"/><rect x="168.13" y="524.96" width="3.86" height="4.69" fill="#c0c0ff"/><rect x="168.13" y="529.60" width="3.86" height="4.69" fill="#c0c0ff"/><rect x="168.13" y="534.24" width="3.86" height="4.69" fill="#a3a3ff"/><rect x="168.13" y="538.88" width="3.86" height="4.69" fill="#c0c0ff"/><rect x="168.13" y="543.52" width="3.86" height="4.69" fill="#c0c0ff"/><rect x="168.13" y="548.16" width="3.86" height="4.69" fill="#a3a3ff"/><rect x="168.13" y="552.80" width="3.86" height="4.69" fill="#fafaff"/><rect x="168.13" y="557.44" width="3.86" height="4.69" fill="#fafaff"/><rect x="168.13" y="562.08" width="3.86" height="4.69" fill="#fafaff"/><rect x="168.13" y="571.36" width="3.86" height="4.69" fill="#fafaff"/><rect x="168.13" y="576.00" width="3.86" height="4.69" fill="#fafaff"/><rect x="168.13" y="580.64" width="3.86" height="4.69" fill="#fafaff"/><rect x="168.13" y="585.28" width="3.86" height="4.69" fill="#8686ff"/><rect x="168.13" y="589.92" width="3.86" height="4.69" fill="#c0c0ff"/><rect x="168.13" y="594.56" width="3.86" height="4.69" fill="#1f2feb"/><rect x="168.13" y="599.20" width="3.86" height="4.69" fill="#fafaff"/><rect x="168.13" y="608.48" width="3.86" height="4.69" fill="#e2e2ff"/><rect x="168.13" y="622.40" width="3.86" height="4.69" fill="#fafaff"/><rect x="171.94" y="506.40" width="3.86" height="4.69" fill="#f0f0ff"/><rect x="171.94" y="511.04" width="3.86" height="4.69" fill="#e2e2ff"/><rect x="171.94" y="515.68" width="3.86" height="4.69" fill="#a3a3ff"/><rect x="171.94" y="520.32" width="3.86" height="4.69" fill="#8686ff"/><rect x="171.94" y="524.96" width="3.86" height="4.69" fill="#6b6bff"/><rect x="171.94" y="529.60" width="3.86" height="4.69" fill="#1f2feb"/><rect x="171.94" y="534.24" width="3.86" height="4.69" fill="#6b6bff"/><rect x="171.94" y="538.88" width="3.86" height="4.69" fill="#8686ff"/><rect x="171.94" y="543.52" width="3.86" height="4.69" fill="#a3a3ff"/><rect x="171.94" y="548.16" width="3.86" height="4.69" fill="#c0c0ff"/><rect x="171.94" y="552.80" width="3.86" height="4.69" fill="#e2e2ff"/><rect x="171.94" y="557.44" width="3.86" height="4.69" fill="#f0f0ff"/><rect x="171.94" y="562.08" width="3.86" height="4.69" fill="#f0f0ff"/><rect x="171.94" y="566.72" width="3.86" height="4.69" fill="#f0f0ff"/><rect x="171.94" y="571.36" width="3.86" height="4.69" fill="#fafaff"/><rect x="171.94" y="576.00" width="3.86" height="4.69" fill="#e2e2ff"/><rect x="171.94" y="580.64" width="3.86" height="4.69" fill="#c0c0ff"/><rect x="171.94" y="585.28" width="3.86" height="4.69" fill="#6b6bff"/><rect x="171.94" y="589.92" width="3.86" height="4.69" fill="#a3a3ff"/><rect x="171.94" y="594.56" width="3.86" height="4.69" fill="#c0c0ff"/><rect x="171.94" y="599.20" width="3.86" height="4.69" fill="#e2e2ff"/><rect x="171.94" y="603.84" width="3.86" height="4.69" fill="#fafaff"/><rect x="171.94" y="608.48" width="3.86" height="4.69" fill="#d3d3ff"/><rect x="175.75" y="506.40" width="3.86" height="4.69" fill="#f0f0ff"/><rect x="175.75" y="511.04" width="3.86" height="4.69" fill="#e2e2ff"/><rect x="175.75" y="515.68" width="3.86" height="4.69" fill="#a3a3ff"/><rect x="175.75" y="520.32" width="3.86" height="4.69" fill="#8686ff"/><rect x="175.75" y="524.96" width="3.86" height="4.69" fill="#8686ff"/><rect x="175.75" y="529.60" width="3.86" height="4.69" fill="#4f4fff"/><rect x="175.75" y="534.24" width="3.86" height="4.69" fill="#1f2feb"/><rect x="175.75" y="538.88" width="3.86" height="4.69" fill="#8686ff"/><rect x="175.75" y="543.52" width="3.86" height="4.69" fill="#8686ff"/><rect x="175.75" y="548.16" width="3.86" height="4.69" fill="#a3a3ff"/><rect x="175.75" y="552.80" width="3.86" height="4.69" fill="#f0f0ff"/><rect x="175.75" y="557.44" width="3.86" height="4.69" fill="#f0f0ff"/><rect x="175.75" y="562.08" width="3.86" height="4.69" fill="#f0f0ff"/><rect x="175.75" y="566.72" width="3.86" height="4.69" fill="#f0f0ff"/><rect x="175.75" y="571.36" width="3.86" height="4.69" fill="#e2e2ff"/><rect x="175.75" y="576.00" width="3.86" height="4.69" fill="#d3d3ff"/><rect x="175.75" y="580.64" width="3.86" height="4.69" fill="#c0c0ff"/><rect x="175.75" y="585.28" width="3.86" height="4.69" fill="#a3a3ff"/><rect x="175.75" y="589.92" width="3.86" height="4.69" fill="#1f2feb"/><rect x="175.75" y="594.56" width="3.86" height="4.69" fill="#fafaff"/><rect x="175.75" y="599.20" width="3.86" height="4.69" fill="#e2e2ff"/><rect x="175.75" y="603.84" width="3.86" height="4.69" fill="#fafaff"/><rect x="175.75" y="608.48" width="3.86" height="4.69" fill="#e2e2ff"/><rect x="179.56" y="501.76" width="3.86" height="4.69" fill="#fafaff"/><rect x="179.56" y="506.40" width="3.86" height="4.69" fill="#fafaff"/><rect x="179.56" y="511.04" width="3.86" height="4.69" fill="#f0f0ff"/><rect x="179.56" y="515.68" width="3.86" height="4.69" fill="#c0c0ff"/><rect x="179.56" y="520.32" width="3.86" height="4.69" fill="#a3a3ff"/><rect x="179.56" y="524.96" width="3.86" height="4.69" fill="#c0c0ff"/><rect x="179.56" y="529.60" width="3.86" height="4.69" fill="#a3a3ff"/><rect x="179.56" y="534.24" width="3.86" height="4.69" fill="#a3a3ff"/><rect x="179.56" y="538.88" width="3.86" height="4.69" fill="#c0c0ff"/><rect x="179.56" y="543.52" width="3.86" height="4.69" fill="#a3a3ff"/><rect x="179.56" y="548.16" width="3.86" height="4.69" fill="#c0c0ff"/><rect x="179.56" y="552.80" width="3.86" height="4.69" fill="#e2e2ff"/><rect x="179.56" y="557.44" width="3.86" height="4.69" fill="#fafaff"/><rect x="179.56" y="562.08" width="3.86" height="4.69" fill="#f0f0ff"/><rect x="179.56" y="566.72" width="3.86" height="4.69" fill="#fafaff"/><rect x="179.56" y="571.36" width="3.86" height="4.69" fill="#e2e2ff"/><rect x="179.56" y="576.00" width="3.86" height="4.69" fill="#c0c0ff"/><rect x="179.56" y="580.64" width="3.86" height="4.69" fill="#d3d3ff"/><rect x="179.56" y="585.28" width="3.86" height="4.69" fill="#8686ff"/><rect x="179.56" y="589.92" width="3.86" height="4.69" fill="#8686ff"/><rect x="179.56" y="594.56" width="3.86" height="4.69" fill="#c0c0ff"/><rect x="179.56" y="599.20" width="3.86" height="4.69" fill="#d3d3ff"/><rect x="179.56" y="603.84" width="3.86" height="4.69" fill="#fafaff"/><rect x="179.56" y="608.48" width="3.86" height="4.69" fill="#f0f0ff"/><rect x="183.37" y="511.04" width="3.86" height="4.69" fill="#fafaff"/><rect x="183.37" y="515.68" width="3.86" height="4.69" fill="#e2e2ff"/><rect x="183.37" y="520.32" width="3.86" height="4.69" fill="#a3a3ff"/><rect x="183.37" y="524.96" width="3.86" height="4.69" fill="#a3a3ff"/><rect x="183.37" y="529.60" width="3.86" height="4.69" fill="#c0c0ff"/><rect x="183.37" y="534.24" width="3.86" height="4.69" fill="#8686ff"/><rect x="183.37" y="538.88" width="3.86" height="4.69" fill="#8686ff"/><rect x="183.37" y="543.52" width="3.86" height="4.69" fill="#8686ff"/><rect x="183.37" y="548.16" width="3.86" height="4.69" fill="#fafaff"/><rect x="183.37" y="552.80" width="3.86" height="4.69" fill="#fafaff"/><rect x="183.37" y="557.44" width="3.86" height="4.69" fill="#e2e2ff"/><rect x="183.37" y="562.08" width="3.86" height="4.69" fill="#fafaff"/><rect x="183.37" y="566.72" width="3.86" height="4.69" fill="#fafaff"/><rect x="183.37" y="571.36" width="3.86" height="4.69" fill="#e2e2ff"/><rect x="183.37" y="576.00" width="3.86" height="4.69" fill="#c0c0ff"/><rect x="183.37" y="580.64" width="3.86" height="4.69" fill="#fafaff"/><rect x="183.37" y="585.28" width="3.86" height="4.69" fill="#c0c0ff"/><rect x="183.37" y="589.92" width="3.86" height="4.69" fill="#8686ff"/><rect x="183.37" y="594.56" width="3.86" height="4.69" fill="#c0c0ff"/><rect x="183.37" y="599.20" width="3.86" height="4.69" fill="#fafaff"/><rect x="183.37" y="603.84" width="3.86" height="4.69" fill="#fafaff"/><rect x="187.18" y="501.76" width="3.86" height="4.69" fill="#f0f0ff"/><rect x="187.18" y="515.68" width="3.86" height="4.69" fill="#f0f0ff"/><rect x="187.18" y="520.32" width="3.86" height="4.69" fill="#fafaff"/><rect x="187.18" y="524.96" width="3.86" height="4.69" fill="#d3d3ff"/><rect x="187.18" y="529.60" width="3.86" height="4.69" fill="#e2e2ff"/><rect x="187.18" y="534.24" width="3.86" height="4.69" fill="#e2e2ff"/><rect x="187.18" y="538.88" width="3.86" height="4.69" fill="#fafaff"/><rect x="187.18" y="543.52" width="3.86" height="4.69" fill="#fafaff"/><rect x="187.18" y="548.16" width="3.86" height="4.69" fill="#c0c0ff"/><rect x="187.18" y="552.80" width="3.86" height="4.69" fill="#e2e2ff"/><rect x="187.18" y="557.44" width="3.86" height="4.69" fill="#fafaff"/><rect x="187.18" y="562.08" width="3.86" height="4.69" fill="#f0f0ff"/><rect x="187.18" y="566.72" width="3.86" height="4.69" fill="#f0f0ff"/><rect x="187.18" y="571.36" width="3.86" height="4.69" fill="#e2e2ff"/><rect x="187.18" y="576.00" width="3.86" height="4.69" fill="#c0c0ff"/><rect x="187.18" y="580.64" width="3.86" height="4.69" fill="#a3a3ff"/><rect x="187.18" y="585.28" width="3.86" height="4.69" fill="#c0c0ff"/><rect x="187.18" y="589.92" width="3.86" height="4.69" fill="#e2e2ff"/><rect x="187.18" y="594.56" width="3.86" height="4.69" fill="#c0c0ff"/><rect x="187.18" y="599.20" width="3.86" height="4.69" fill="#a3a3ff"/><rect x="187.18" y="603.84" width="3.86" height="4.69" fill="#fafaff"/><rect x="190.99" y="520.32" width="3.86" height="4.69" fill="#fafaff"/><rect x="190.99" y="524.96" width="3.86" height="4.69" fill="#fafaff"/><rect x="190.99" y="529.60" width="3.86" height="4.69" fill="#e2e2ff"/><rect x="190.99" y="534.24" width="3.86" height="4.69" fill="#d3d3ff"/><rect x="190.99" y="538.88" width="3.86" height="4.69" fill="#e2e2ff"/><rect x="190.99" y="543.52" width="3.86" height="4.69" fill="#e2e2ff"/><rect x="190.99" y="548.16" width="3.86" height="4.69" fill="#fafaff"/><rect x="190.99" y="552.80" width="3.86" height="4.69" fill="#fafaff"/><rect x="190.99" y="557.44" width="3.86" height="4.69" fill="#fafaff"/><rect x="190.99" y="562.08" width="3.86" height="4.69" fill="#fafaff"/><rect x="190.99" y="566.72" width="3.86" height="4.69" fill="#fafaff"/><rect x="190.99" y="571.36" width="3.86" height="4.69" fill="#fafaff"/><rect x="190.99" y="576.00" width="3.86" height="4.69" fill="#fafaff"/><rect x="190.99" y="580.64" width="3.86" height="4.69" fill="#fafaff"/><rect x="190.99" y="585.28" width="3.86" height="4.69" fill="#fafaff"/><rect x="190.99" y="589.92" width="3.86" height="4.69" fill="#fafaff"/><rect x="190.99" y="599.20" width="3.86" height="4.69" fill="#fafaff"/><rect x="190.99" y="603.84" width="3.86" height="4.69" fill="#f0f0ff"/><rect x="194.80" y="511.04" width="3.86" height="4.69" fill="#fafaff"/><rect x="194.80" y="520.32" width="3.86" height="4.69" fill="#fafaff"/><rect x="194.80" y="524.96" width="3.86" height="4.69" fill="#f0f0ff"/><rect x="194.80" y="529.60" width="3.86" height="4.69" fill="#e2e2ff"/><rect x="194.80" y="534.24" width="3.86" height="4.69" fill="#e2e2ff"/><rect x="194.80" y="538.88" width="3.86" height="4.69" fill="#c0c0ff"/><rect x="194.80" y="543.52" width="3.86" height="4.69" fill="#f0f0ff"/><rect x="194.80" y="548.16" width="3.86" height="4.69" fill="#fafaff"/><rect x="194.80" y="552.80" width="3.86" height="4.69" fill="#f0f0ff"/><rect x="194.80" y="557.44" width="3.86" height="4.69" fill="#fafaff"/><rect x="194.80" y="562.08" width="3.86" height="4.69" fill="#fafaff"/><rect x="194.80" y="566.72" width="3.86" height="4.69" fill="#fafaff"/><rect x="194.80" y="576.00" width="3.86" height="4.69" fill="#fafaff"/><rect x="194.80" y="585.28" width="3.86" height="4.69" fill="#fafaff"/><rect x="194.80" y="589.92" width="3.86" height="4.69" fill="#fafaff"/><rect x="194.80" y="599.20" width="3.86" height="4.69" fill="#fafaff"/><rect x="198.61" y="487.84" width="3.86" height="4.69" fill="#fafaff"/><rect x="198.61" y="520.32" width="3.86" height="4.69" fill="#fafaff"/><rect x="198.61" y="524.96" width="3.86" height="4.69" fill="#fafaff"/><rect x="198.61" y="529.60" width="3.86" height="4.69" fill="#e2e2ff"/><rect x="198.61" y="534.24" width="3.86" height="4.69" fill="#fafaff"/><rect x="198.61" y="538.88" width="3.86" height="4.69" fill="#fafaff"/><rect x="198.61" y="543.52" width="3.86" height="4.69" fill="#fafaff"/><rect x="198.61" y="589.92" width="3.86" height="4.69" fill="#fafaff"/><rect x="202.42" y="520.32" width="3.86" height="4.69" fill="#fafaff"/><rect x="202.42" y="524.96" width="3.86" height="4.69" fill="#fafaff"/><rect x="202.42" y="529.60" width="3.86" height="4.69" fill="#f0f0ff"/><rect x="202.42" y="534.24" width="3.86" height="4.69" fill="#fafaff"/><rect x="206.23" y="473.92" width="3.86" height="4.69" fill="#fafaff"/><rect x="206.23" y="515.68" width="3.86" height="4.69" fill="#fafaff"/><rect x="206.23" y="520.32" width="3.86" height="4.69" fill="#fafaff"/><rect x="206.23" y="524.96" width="3.86" height="4.69" fill="#fafaff"/><rect x="206.23" y="529.60" width="3.86" height="4.69" fill="#fafaff"/><rect x="210.04" y="460.00" width="3.86" height="4.69" fill="#fafaff"/><rect x="210.04" y="464.64" width="3.86" height="4.69" fill="#a3a3ff"/><rect x="210.04" y="469.28" width="3.86" height="4.69" fill="#fafaff"/><rect x="210.04" y="506.40" width="3.86" height="4.69" fill="#fafaff"/><rect x="210.04" y="511.04" width="3.86" height="4.69" fill="#fafaff"/><rect x="210.04" y="515.68" width="3.86" height="4.69" fill="#fafaff"/><rect x="210.04" y="520.32" width="3.86" height="4.69" fill="#fafaff"/><rect x="210.04" y="524.96" width="3.86" height="4.69" fill="#fafaff"/><rect x="213.85" y="460.00" width="3.86" height="4.69" fill="#f0f0ff"/><rect x="213.85" y="464.64" width="3.86" height="4.69" fill="#d3d3ff"/><rect x="213.85" y="469.28" width="3.86" height="4.69" fill="#fafaff"/><rect x="213.85" y="473.92" width="3.86" height="4.69" fill="#a3a3ff"/><rect x="213.85" y="478.56" width="3.86" height="4.69" fill="#fafaff"/><rect x="213.85" y="483.20" width="3.86" height="4.69" fill="#fafaff"/><rect x="213.85" y="487.84" width="3.86" height="4.69" fill="#fafaff"/><rect x="213.85" y="501.76" width="3.86" height="4.69" fill="#fafaff"/><rect x="213.85" y="506.40" width="3.86" height="4.69" fill="#fafaff"/><rect x="217.66" y="460.00" width="3.86" height="4.69" fill="#f0f0ff"/><rect x="217.66" y="464.64" width="3.86" height="4.69" fill="#e2e2ff"/><rect x="217.66" y="469.28" width="3.86" height="4.69" fill="#f0f0ff"/><rect x="217.66" y="473.92" width="3.86" height="4.69" fill="#fafaff"/><rect x="217.66" y="478.56" width="3.86" height="4.69" fill="#e2e2ff"/><rect x="217.66" y="483.20" width="3.86" height="4.69" fill="#fafaff"/><rect x="217.66" y="487.84" width="3.86" height="4.69" fill="#fafaff"/><rect x="217.66" y="497.12" width="3.86" height="4.69" fill="#fafaff"/><rect x="217.66" y="501.76" width="3.86" height="4.69" fill="#fafaff"/><rect x="221.47" y="460.00" width="3.86" height="4.69" fill="#f0f0ff"/><rect x="221.47" y="464.64" width="3.86" height="4.69" fill="#c0c0ff"/><rect x="221.47" y="473.92" width="3.86" height="4.69" fill="#f0f0ff"/><rect x="221.47" y="478.56" width="3.86" height="4.69" fill="#e2e2ff"/><rect x="221.47" y="483.20" width="3.86" height="4.69" fill="#d3d3ff"/><rect x="221.47" y="487.84" width="3.86" height="4.69" fill="#d3d3ff"/><rect x="221.47" y="492.48" width="3.86" height="4.69" fill="#fafaff"/><rect x="221.47" y="497.12" width="3.86" height="4.69" fill="#fafaff"/><rect x="225.28" y="460.00" width="3.86" height="4.69" fill="#f0f0ff"/><rect x="225.28" y="464.64" width="3.86" height="4.69" fill="#fafaff"/><rect x="225.28" y="473.92" width="3.86" height="4.69" fill="#fafaff"/><rect x="225.28" y="478.56" width="3.86" height="4.69" fill="#d3d3ff"/><rect x="225.28" y="483.20" width="3.86" height="4.69" fill="#f0f0ff"/><rect x="225.28" y="487.84" width="3.86" height="4.69" fill="#f0f0ff"/><rect x="225.28" y="492.48" width="3.86" height="4.69" fill="#fafaff"/><rect x="225.28" y="497.12" width="3.86" height="4.69" fill="#f0f0ff"/></g></g>
</g>
<line x1="72.10" y1="404.9" x2="72.10" y2="674.7" stroke="#1a1a1a" stroke-width="1.3"/>
<line x1="112.06" y1="404.9" x2="112.06" y2="674.7" stroke="#1a1a1a" stroke-width="1.3"/>
<line x1="152.03" y1="404.9" x2="152.03" y2="674.7" stroke="#1a1a1a" stroke-width="1.3"/>
<line x1="192.00" y1="404.9" x2="192.00" y2="674.7" stroke="#1a1a1a" stroke-width="1.3"/>
<line x1="231.96" y1="404.9" x2="231.96" y2="674.7" stroke="#1a1a1a" stroke-width="1.3"/>
<line x1="271.92" y1="404.9" x2="271.92" y2="674.7" stroke="#1a1a1a" stroke-width="1.3"/>
<line x1="311.89" y1="404.9" x2="311.89" y2="674.7" stroke="#1a1a1a" stroke-width="1.3"/>
<line x1="52" y1="654.30" x2="321.5" y2="654.30" stroke="#1a1a1a" stroke-width="1.3"/>
<text x="38.80" y="654.30" font-family="'Liberation Sans', sans-serif" font-size="17" text-anchor="middle" font-weight="normal" font-style="normal" fill="#000" transform="rotate(-90 38.8 654.3)" stroke="#000" stroke-width="0.3">0.1</text>
<line x1="52" y1="614.33" x2="321.5" y2="614.33" stroke="#1a1a1a" stroke-width="1.3"/>
<text x="38.80" y="614.33" font-family="'Liberation Sans', sans-serif" font-size="17" text-anchor="middle" font-weight="normal" font-style="normal" fill="#000" transform="rotate(-90 38.8 614.3299999999999)" stroke="#000" stroke-width="0.3">0.2</text>
<line x1="52" y1="574.36" x2="321.5" y2="574.36" stroke="#1a1a1a" stroke-width="1.3"/>
<text x="38.80" y="574.36" font-family="'Liberation Sans', sans-serif" font-size="17" text-anchor="middle" font-weight="normal" font-style="normal" fill="#000" transform="rotate(-90 38.8 574.3599999999999)" stroke="#000" stroke-width="0.3">0.3</text>
<line x1="52" y1="534.39" x2="321.5" y2="534.39" stroke="#1a1a1a" stroke-width="1.3"/>
<text x="38.80" y="534.39" font-family="'Liberation Sans', sans-serif" font-size="17" text-anchor="middle" font-weight="normal" font-style="normal" fill="#000" transform="rotate(-90 38.8 534.39)" stroke="#000" stroke-width="0.3">0.4</text>
<line x1="52" y1="494.42" x2="321.5" y2="494.42" stroke="#1a1a1a" stroke-width="1.3"/>
<text x="38.80" y="494.42" font-family="'Liberation Sans', sans-serif" font-size="17" text-anchor="middle" font-weight="normal" font-style="normal" fill="#000" transform="rotate(-90 38.8 494.41999999999996)" stroke="#000" stroke-width="0.3">0.5</text>
<line x1="52" y1="454.45" x2="321.5" y2="454.45" stroke="#1a1a1a" stroke-width="1.3"/>
<text x="38.80" y="454.45" font-family="'Liberation Sans', sans-serif" font-size="17" text-anchor="middle" font-weight="normal" font-style="normal" fill="#000" transform="rotate(-90 38.8 454.44999999999993)" stroke="#000" stroke-width="0.3">0.6</text>
<line x1="52" y1="414.48" x2="321.5" y2="414.48" stroke="#1a1a1a" stroke-width="1.3"/>
<text x="38.80" y="414.48" font-family="'Liberation Sans', sans-serif" font-size="17" text-anchor="middle" font-weight="normal" font-style="normal" fill="#000" transform="rotate(-90 38.8 414.4799999999999)" stroke="#000" stroke-width="0.3">0.7</text>
<text x="72.10" y="700.60" font-family="'Liberation Sans', sans-serif" font-size="17" text-anchor="middle" font-weight="normal" font-style="normal" fill="#000" stroke="#000" stroke-width="0.3">0.15</text>
<text x="152.03" y="700.60" font-family="'Liberation Sans', sans-serif" font-size="17" text-anchor="middle" font-weight="normal" font-style="normal" fill="#000" stroke="#000" stroke-width="0.3">0.25</text>
<text x="231.96" y="700.60" font-family="'Liberation Sans', sans-serif" font-size="17" text-anchor="middle" font-weight="normal" font-style="normal" fill="#000" stroke="#000" stroke-width="0.3">0.35</text>
<text x="311.89" y="700.60" font-family="'Liberation Sans', sans-serif" font-size="17" text-anchor="middle" font-weight="normal" font-style="normal" fill="#000" stroke="#000" stroke-width="0.3">0.45</text>
<rect x="62.3" y="404.9" width="259.2" height="258.9" fill="none" stroke="#000" stroke-width="1.3"/>
<rect x="259.5" y="404.9" width="62" height="231.3" fill="#fff" stroke="#000" stroke-width="1.3"/>
<text x="290.30" y="424.60" font-family="'Liberation Sans', sans-serif" font-size="15.2" text-anchor="middle" font-weight="normal" font-style="normal" fill="#000" stroke="#000" stroke-width="0.3"># fixes</text>
<text x="287.90" y="449.60" font-family="'Liberation Sans', sans-serif" font-size="15.2" text-anchor="start" font-weight="normal" font-style="normal" fill="#000" stroke="#000" stroke-width="0.3">1</text>
<circle cx="273.9" cy="463.10" r="4.2" fill="#9999ff"/>
<text x="287.90" y="468.90" font-family="'Liberation Sans', sans-serif" font-size="15.2" text-anchor="start" font-weight="normal" font-style="normal" fill="#000" stroke="#000" stroke-width="0.3">22</text>
<circle cx="273.9" cy="482.40" r="4.2" fill="#3333ff"/>
<text x="287.90" y="488.20" font-family="'Liberation Sans', sans-serif" font-size="15.2" text-anchor="start" font-weight="normal" font-style="normal" fill="#000" stroke="#000" stroke-width="0.3">44</text>
<circle cx="273.9" cy="501.70" r="4.2" fill="#0a2ad6"/>
<text x="287.90" y="507.50" font-family="'Liberation Sans', sans-serif" font-size="15.2" text-anchor="start" font-weight="normal" font-style="normal" fill="#000" stroke="#000" stroke-width="0.3">65</text>
<circle cx="273.9" cy="521.00" r="4.2" fill="#009966"/>
<text x="287.90" y="526.80" font-family="'Liberation Sans', sans-serif" font-size="15.2" text-anchor="start" font-weight="normal" font-style="normal" fill="#000" stroke="#000" stroke-width="0.3">87</text>
<circle cx="273.9" cy="540.30" r="4.2" fill="#00ff1a"/>
<text x="287.90" y="546.10" font-family="'Liberation Sans', sans-serif" font-size="15.2" text-anchor="start" font-weight="normal" font-style="normal" fill="#000" stroke="#000" stroke-width="0.3">108</text>
<circle cx="273.9" cy="559.60" r="4.2" fill="#66ff11"/>
<text x="287.90" y="565.40" font-family="'Liberation Sans', sans-serif" font-size="15.2" text-anchor="start" font-weight="normal" font-style="normal" fill="#000" stroke="#000" stroke-width="0.3">129</text>
<circle cx="273.9" cy="578.90" r="4.2" fill="#ccff00"/>
<text x="287.90" y="584.70" font-family="'Liberation Sans', sans-serif" font-size="15.2" text-anchor="start" font-weight="normal" font-style="normal" fill="#000" stroke="#000" stroke-width="0.3">151</text>
<circle cx="273.9" cy="598.20" r="4.2" fill="#ffc800"/>
<text x="287.90" y="604.00" font-family="'Liberation Sans', sans-serif" font-size="15.2" text-anchor="start" font-weight="normal" font-style="normal" fill="#000" stroke="#000" stroke-width="0.3">172</text>
<circle cx="273.9" cy="617.50" r="4.2" fill="#ff6600"/>
<text x="287.90" y="623.30" font-family="'Liberation Sans', sans-serif" font-size="15.2" text-anchor="start" font-weight="normal" font-style="normal" fill="#000" stroke="#000" stroke-width="0.3">194</text>
<text x="195.40" y="444.80" font-family="'Liberation Sans', sans-serif" font-size="16" stroke="#000" stroke-width="0.3">P</text><text x="206.10" y="448.00" font-family="'Liberation Sans', sans-serif" font-size="11" stroke="#000" stroke-width="0.1">p1</text><line x1="222.60" y1="441.60" x2="223.80" y2="465.50" stroke="#000" stroke-width="1.5"/><polyline points="218.64,457.52 223.80,465.50 228.13,457.04" fill="none" stroke="#000" stroke-width="1.5"/><text x="82.50" y="481.60" font-family="'Liberation Sans', sans-serif" font-size="16" stroke="#000" stroke-width="0.3">P</text><text x="92.90" y="484.80" font-family="'Liberation Sans', sans-serif" font-size="11" stroke="#000" stroke-width="0.1">p2</text><line x1="89.60" y1="478.70" x2="91.90" y2="518.40" stroke="#000" stroke-width="1.5"/><polyline points="86.68,510.46 91.90,518.40 96.17,509.91" fill="none" stroke="#000" stroke-width="1.5"/><text x="114.90" y="514.70" font-family="'Liberation Sans', sans-serif" font-size="16" stroke="#000" stroke-width="0.3">P</text><text x="126.20" y="517.80" font-family="'Liberation Sans', sans-serif" font-size="11" stroke="#000" stroke-width="0.1">a</text><line x1="131.60" y1="510.50" x2="152.10" y2="531.80" stroke="#000" stroke-width="1.5"/><polyline points="142.97,529.17 152.10,531.80 149.82,522.58" fill="none" stroke="#000" stroke-width="1.5"/><text x="157.10" y="512.80" font-family="'Liberation Sans', sans-serif" font-size="16" stroke="#000" stroke-width="0.3">P</text><text x="168.30" y="515.90" font-family="'Liberation Sans', sans-serif" font-size="11" stroke="#000" stroke-width="0.1">t</text><line x1="171.50" y1="508.70" x2="177.60" y2="532.60" stroke="#000" stroke-width="1.5"/><polyline points="170.96,525.80 177.60,532.60 180.17,523.45" fill="none" stroke="#000" stroke-width="1.5"/><text x="156.00" y="569.20" font-family="'Liberation Sans', sans-serif" font-size="16" stroke="#000" stroke-width="0.3">P</text><text x="166.70" y="572.30" font-family="'Liberation Sans', sans-serif" font-size="11" stroke="#000" stroke-width="0.1">r</text><line x1="171.00" y1="564.70" x2="177.60" y2="592.80" stroke="#000" stroke-width="1.5"/><polyline points="171.09,585.88 177.60,592.80 180.34,583.70" fill="none" stroke="#000" stroke-width="1.5"/>
<text x="191.90" y="721.00" font-family="'Liberation Sans', sans-serif" font-size="17.5" text-anchor="middle" font-weight="normal" font-style="normal" fill="#000" >x</text>
<text x="17.30" y="534.50" font-family="'Liberation Sans', sans-serif" font-size="17" text-anchor="middle" font-weight="normal" font-style="normal" fill="#000" transform="rotate(-90 17.3 534.5)" >y</text>
</g>
<text x="357.30" y="380.60" font-family="'Liberation Serif', serif" font-size="21" text-anchor="start" font-weight="normal" font-style="normal" fill="#000">c)</text>
<text x="499.8" y="379.40" font-family="'Liberation Serif', serif" font-size="16.5" textLength="71.4" lengthAdjust="spacingAndGlyphs">yellow SPs</text>
<g transform="translate(357.3,0)">
<g clip-path="url(#clipB)"><g filter="url(#blurM)"><use href="#map" transform="matrix(1.43966,0,0,1.66681,-169.45,212.23)"/><polygon points="238.0,412.7 327.2,412.7 327.2,488.9 309.7,476.4 251.8,433.6" fill="#dadada"/><polyline points="238.0,420.2 251.8,433.6 309.7,476.4" fill="none" stroke="#f4f4f4" stroke-width="3"/><polyline points="61.3,294.6 161.7,380.4 205.6,420.2 238.0,448.4 309.7,508.6 315.3,512.3 450.6,610.6 566.6,680.6 610.1,694.4" fill="none" stroke="#6a6a6a" stroke-width="3.4"/><polyline points="61.3,294.6 161.7,380.4 205.6,420.2 238.0,448.4 309.7,508.6 315.3,512.3 450.6,610.6 566.6,680.6 610.1,694.4" fill="none" stroke="#d4d4d4" stroke-width="1.8"/><polyline points="309.7,328.6 276.8,370.6 257.1,408.9 251.8,420.2 248.1,425.6" fill="none" stroke="#8a8a8a" stroke-width="0.7"/></g>
<g filter="url(#blurH)"><g shape-rendering="crispEdges"><rect x="76.69" y="478.56" width="3.86" height="4.69" fill="#fafaff"/><rect x="76.69" y="483.20" width="3.86" height="4.69" fill="#fafaff"/><rect x="80.50" y="487.84" width="3.86" height="4.69" fill="#fafaff"/><rect x="80.50" y="497.12" width="3.86" height="4.69" fill="#fafaff"/><rect x="80.50" y="501.76" width="3.86" height="4.69" fill="#fafaff"/><rect x="80.50" y="506.40" width="3.86" height="4.69" fill="#fafaff"/><rect x="84.31" y="497.12" width="3.86" height="4.69" fill="#fafaff"/><rect x="84.31" y="511.04" width="3.86" height="4.69" fill="#fafaff"/><rect x="84.31" y="515.68" width="3.86" height="4.69" fill="#fafaff"/><rect x="88.12" y="497.12" width="3.86" height="4.69" fill="#fafaff"/><rect x="88.12" y="511.04" width="3.86" height="4.69" fill="#fafaff"/><rect x="88.12" y="515.68" width="3.86" height="4.69" fill="#e2e2ff"/><rect x="88.12" y="520.32" width="3.86" height="4.69" fill="#f0f0ff"/><rect x="88.12" y="524.96" width="3.86" height="4.69" fill="#f0f0ff"/><rect x="91.93" y="487.84" width="3.86" height="4.69" fill="#fafaff"/><rect x="91.93" y="492.48" width="3.86" height="4.69" fill="#fafaff"/><rect x="91.93" y="497.12" width="3.86" height="4.69" fill="#4f4fff"/><rect x="91.93" y="501.76" width="3.86" height="4.69" fill="#f0f0ff"/><rect x="91.93" y="506.40" width="3.86" height="4.69" fill="#fafaff"/><rect x="91.93" y="511.04" width="3.86" height="4.69" fill="#fafaff"/><rect x="91.93" y="515.68" width="3.86" height="4.69" fill="#fafaff"/><rect x="95.74" y="450.72" width="3.86" height="4.69" fill="#fafaff"/><rect x="95.74" y="455.36" width="3.86" height="4.69" fill="#fafaff"/><rect x="95.74" y="483.20" width="3.86" height="4.69" fill="#e2e2ff"/><rect x="95.74" y="487.84" width="3.86" height="4.69" fill="#c0c0ff"/><rect x="95.74" y="492.48" width="3.86" height="4.69" fill="#c0c0ff"/><rect x="95.74" y="497.12" width="3.86" height="4.69" fill="#a3a3ff"/><rect x="95.74" y="501.76" width="3.86" height="4.69" fill="#fafaff"/><rect x="95.74" y="506.40" width="3.86" height="4.69" fill="#fafaff"/><rect x="95.74" y="511.04" width="3.86" height="4.69" fill="#fafaff"/><rect x="95.74" y="515.68" width="3.86" height="4.69" fill="#fafaff"/><rect x="99.55" y="460.00" width="3.86" height="4.69" fill="#f0f0ff"/><rect x="99.55" y="469.28" width="3.86" height="4.69" fill="#fafaff"/><rect x="99.55" y="483.20" width="3.86" height="4.69" fill="#f0f0ff"/><rect x="99.55" y="487.84" width="3.86" height="4.69" fill="#e2e2ff"/><rect x="99.55" y="492.48" width="3.86" height="4.69" fill="#d3d3ff"/><rect x="99.55" y="497.12" width="3.86" height="4.69" fill="#e2e2ff"/><rect x="99.55" y="501.76" width="3.86" height="4.69" fill="#fafaff"/><rect x="99.55" y="506.40" width="3.86" height="4.69" fill="#fafaff"/><rect x="99.55" y="511.04" width="3.86" height="4.69" fill="#fafaff"/><rect x="99.55" y="524.96" width="3.86" height="4.69" fill="#fafaff"/><rect x="103.36" y="571.36" width="3.86" height="4.69" fill="#fafaff"/><rect x="114.79" y="464.64" width="3.86" height="4.69" fill="#fafaff"/><rect x="114.79" y="497.12" width="3.86" height="4.69" fill="#fafaff"/><rect x="114.79" y="515.68" width="3.86" height="4.69" fill="#fafaff"/><rect x="114.79" y="520.32" width="3.86" height="4.69" fill="#fafaff"/><rect x="114.79" y="534.24" width="3.86" height="4.69" fill="#fafaff"/><rect x="114.79" y="548.16" width="3.86" height="4.69" fill="#fafaff"/><rect x="122.41" y="478.56" width="3.86" height="4.69" fill="#fafaff"/><rect x="122.41" y="557.44" width="3.86" height="4.69" fill="#fafaff"/><rect x="126.22" y="473.92" width="3.86" height="4.69" fill="#fafaff"/><rect x="126.22" y="501.76" width="3.86" height="4.69" fill="#fafaff"/><rect x="126.22" y="506.40" width="3.86" height="4.69" fill="#fafaff"/><rect x="126.22" y="529.60" width="3.86" height="4.69" fill="#fafaff"/><rect x="126.22" y="543.52" width="3.86" height="4.69" fill="#fafaff"/><rect x="126.22" y="548.16" width="3.86" height="4.69" fill="#fafaff"/><rect x="130.03" y="529.60" width="3.86" height="4.69" fill="#fafaff"/><rect x="130.03" y="534.24" width="3.86" height="4.69" fill="#fafaff"/><rect x="130.03" y="538.88" width="3.86" height="4.69" fill="#fafaff"/><rect x="130.03" y="543.52" width="3.86" height="4.69" fill="#4f4fff"/><rect x="130.03" y="548.16" width="3.86" height="4.69" fill="#e2e2ff"/><rect x="130.03" y="557.44" width="3.86" height="4.69" fill="#fafaff"/><rect x="133.84" y="501.76" width="3.86" height="4.69" fill="#fafaff"/><rect x="133.84" y="520.32" width="3.86" height="4.69" fill="#fafaff"/><rect x="133.84" y="529.60" width="3.86" height="4.69" fill="#fafaff"/><rect x="133.84" y="534.24" width="3.86" height="4.69" fill="#fafaff"/><rect x="133.84" y="538.88" width="3.86" height="4.69" fill="#f0f0ff"/><rect x="133.84" y="543.52" width="3.86" height="4.69" fill="#8686ff"/><rect x="133.84" y="548.16" width="3.86" height="4.69" fill="#4f4fff"/><rect x="133.84" y="557.44" width="3.86" height="4.69" fill="#fafaff"/><rect x="133.84" y="571.36" width="3.86" height="4.69" fill="#fafaff"/><rect x="137.65" y="501.76" width="3.86" height="4.69" fill="#fafaff"/><rect x="137.65" y="506.40" width="3.86" height="4.69" fill="#fafaff"/><rect x="137.65" y="520.32" width="3.86" height="4.69" fill="#fafaff"/><rect x="137.65" y="524.96" width="3.86" height="4.69" fill="#fafaff"/><rect x="137.65" y="529.60" width="3.86" height="4.69" fill="#fafaff"/><rect x="137.65" y="534.24" width="3.86" height="4.69" fill="#fafaff"/><rect x="137.65" y="538.88" width="3.86" height="4.69" fill="#f0f0ff"/><rect x="137.65" y="543.52" width="3.86" height="4.69" fill="#fafaff"/><rect x="137.65" y="562.08" width="3.86" height="4.69" fill="#fafaff"/><rect x="141.46" y="511.04" width="3.86" height="4.69" fill="#fafaff"/><rect x="141.46" y="515.68" width="3.86" height="4.69" fill="#e2e2ff"/><rect x="141.46" y="520.32" width="3.86" height="4.69" fill="#fafaff"/><rect x="141.46" y="524.96" width="3.86" height="4.69" fill="#fafaff"/><rect x="141.46" y="529.60" width="3.86" height="4.69" fill="#f0f0ff"/><rect x="141.46" y="534.24" width="3.86" height="4.69" fill="#fafaff"/><rect x="141.46" y="538.88" width="3.86" height="4.69" fill="#fafaff"/><rect x="141.46" y="543.52" width="3.86" height="4.69" fill="#fafaff"/><rect x="141.46" y="548.16" width="3.86" height="4.69" fill="#fafaff"/><rect x="141.46" y="552.80" width="3.86" height="4.69" fill="#fafaff"/><rect x="145.27" y="506.40" width="3.86" height="4.69" fill="#fafaff"/><rect x="145.27" y="511.04" width="3.86" height="4.69" fill="#fafaff"/><rect x="145.27" y="515.68" width="3.86" height="4.69" fill="#f0f0ff"/><rect x="145.27" y="520.32" width="3.86" height="4.69" fill="#fafaff"/><rect x="145.27" y="524.96" width="3.86" height="4.69" fill="#fafaff"/><rect x="145.27" y="529.60" width="3.86" height="4.69" fill="#f0f0ff"/><rect x="145.27" y="534.24" width="3.86" height="4.69" fill="#fafaff"/><rect x="145.27" y="538.88" width="3.86" height="4.69" fill="#fafaff"/><rect x="145.27" y="543.52" width="3.86" height="4.69" fill="#fafaff"/><rect x="145.27" y="548.16" width="3.86" height="4.69" fill="#f0f0ff"/><rect x="149.08" y="422.88" width="3.86" height="4.69" fill="#fafaff"/><rect x="149.08" y="427.52" width="3.86" height="4.69" fill="#fafaff"/><rect x="149.08" y="436.80" width="3.86" height="4.69" fill="#fafaff"/><rect x="149.08" y="450.72" width="3.86" height="4.69" fill="#fafaff"/><rect x="149.08" y="455.36" width="3.86" height="4.69" fill="#fafaff"/><rect x="149.08" y="460.00" width="3.86" height="4.69" fill="#fafaff"/><rect x="149.08" y="469.28" width="3.86" height="4.69" fill="#fafaff"/><rect x="149.08" y="478.56" width="3.86" height="4.69" fill="#fafaff"/><rect x="149.08" y="483.20" width="3.86" height="4.69" fill="#fafaff"/><rect x="149.08" y="543.52" width="3.86" height="4.69" fill="#d3d3ff"/><rect x="149.08" y="548.16" width="3.86" height="4.69" fill="#fafaff"/><rect x="152.89" y="404.32" width="3.86" height="4.69" fill="#fafaff"/><rect x="152.89" y="450.72" width="3.86" height="4.69" fill="#fafaff"/><rect x="152.89" y="497.12" width="3.86" height="4.69" fill="#fafaff"/><rect x="152.89" y="520.32" width="3.86" height="4.69" fill="#f0f0ff"/><rect x="152.89" y="524.96" width="3.86" height="4.69" fill="#d3d3ff"/><rect x="152.89" y="529.60" width="3.86" height="4.69" fill="#c0c0ff"/><rect x="152.89" y="534.24" width="3.86" height="4.69" fill="#e2e2ff"/><rect x="152.89" y="538.88" width="3.86" height="4.69" fill="#f0f0ff"/><rect x="152.89" y="543.52" width="3.86" height="4.69" fill="#fafaff"/><rect x="152.89" y="548.16" width="3.86" height="4.69" fill="#fafaff"/><rect x="152.89" y="557.44" width="3.86" height="4.69" fill="#fafaff"/><rect x="152.89" y="566.72" width="3.86" height="4.69" fill="#fafaff"/><rect x="156.70" y="441.44" width="3.86" height="4.69" fill="#fafaff"/><rect x="156.70" y="520.32" width="3.86" height="4.69" fill="#e2e2ff"/><rect x="156.70" y="524.96" width="3.86" height="4.69" fill="#e2e2ff"/><rect x="156.70" y="529.60" width="3.86" height="4.69" fill="#d3d3ff"/><rect x="156.70" y="534.24" width="3.86" height="4.69" fill="#e2e2ff"/><rect x="156.70" y="538.88" width="3.86" height="4.69" fill="#a3a3ff"/><rect x="156.70" y="543.52" width="3.86" height="4.69" fill="#e2e2ff"/><rect x="156.70" y="548.16" width="3.86" height="4.69" fill="#f0f0ff"/><rect x="156.70" y="552.80" width="3.86" height="4.69" fill="#fafaff"/><rect x="156.70" y="566.72" width="3.86" height="4.69" fill="#fafaff"/><rect x="156.70" y="571.36" width="3.86" height="4.69" fill="#fafaff"/><rect x="160.51" y="422.88" width="3.86" height="4.69" fill="#fafaff"/><rect x="160.51" y="524.96" width="3.86" height="4.69" fill="#e2e2ff"/><rect x="160.51" y="529.60" width="3.86" height="4.69" fill="#fafaff"/><rect x="160.51" y="534.24" width="3.86" height="4.69" fill="#f0f0ff"/><rect x="160.51" y="538.88" width="3.86" height="4.69" fill="#f0f0ff"/><rect x="160.51" y="543.52" width="3.86" height="4.69" fill="#c0c0ff"/><rect x="160.51" y="548.16" width="3.86" height="4.69" fill="#fafaff"/><rect x="160.51" y="552.80" width="3.86" height="4.69" fill="#fafaff"/><rect x="164.32" y="422.88" width="3.86" height="4.69" fill="#fafaff"/><rect x="164.32" y="469.28" width="3.86" height="4.69" fill="#fafaff"/><rect x="164.32" y="520.32" width="3.86" height="4.69" fill="#f0f0ff"/><rect x="164.32" y="524.96" width="3.86" height="4.69" fill="#e2e2ff"/><rect x="164.32" y="529.60" width="3.86" height="4.69" fill="#e2e2ff"/><rect x="164.32" y="534.24" width="3.86" height="4.69" fill="#fafaff"/><rect x="168.13" y="520.32" width="3.86" height="4.69" fill="#f0f0ff"/><rect x="168.13" y="524.96" width="3.86" height="4.69" fill="#e2e2ff"/><rect x="168.13" y="529.60" width="3.86" height="4.69" fill="#fafaff"/><rect x="168.13" y="534.24" width="3.86" height="4.69" fill="#fafaff"/><rect x="168.13" y="538.88" width="3.86" height="4.69" fill="#fafaff"/><rect x="168.13" y="548.16" width="3.86" height="4.69" fill="#f0f0ff"/><rect x="168.13" y="552.80" width="3.86" height="4.69" fill="#f0f0ff"/><rect x="171.94" y="497.12" width="3.86" height="4.69" fill="#fafaff"/><rect x="171.94" y="511.04" width="3.86" height="4.69" fill="#fafaff"/><rect x="171.94" y="520.32" width="3.86" height="4.69" fill="#e2e2ff"/><rect x="171.94" y="524.96" width="3.86" height="4.69" fill="#f0f0ff"/><rect x="171.94" y="529.60" width="3.86" height="4.69" fill="#fafaff"/><rect x="171.94" y="534.24" width="3.86" height="4.69" fill="#fafaff"/><rect x="171.94" y="538.88" width="3.86" height="4.69" fill="#fafaff"/><rect x="171.94" y="543.52" width="3.86" height="4.69" fill="#fafaff"/><rect x="171.94" y="548.16" width="3.86" height="4.69" fill="#e2e2ff"/><rect x="171.94" y="552.80" width="3.86" height="4.69" fill="#fafaff"/><rect x="175.75" y="497.12" width="3.86" height="4.69" fill="#fafaff"/><rect x="175.75" y="506.40" width="3.86" height="4.69" fill="#fafaff"/><rect x="175.75" y="511.04" width="3.86" height="4.69" fill="#fafaff"/><rect x="175.75" y="515.68" width="3.86" height="4.69" fill="#fafaff"/><rect x="175.75" y="520.32" width="3.86" height="4.69" fill="#e2e2ff"/><rect x="175.75" y="524.96" width="3.86" height="4.69" fill="#e2e2ff"/><rect x="175.75" y="529.60" width="3.86" height="4.69" fill="#fafaff"/><rect x="175.75" y="534.24" width="3.86" height="4.69" fill="#fafaff"/><rect x="175.75" y="538.88" width="3.86" height="4.69" fill="#fafaff"/><rect x="175.75" y="548.16" width="3.86" height="4.69" fill="#f0f0ff"/><rect x="175.75" y="552.80" width="3.86" height="4.69" fill="#fafaff"/><rect x="179.56" y="501.76" width="3.86" height="4.69" fill="#f0f0ff"/><rect x="179.56" y="506.40" width="3.86" height="4.69" fill="#e2e2ff"/><rect x="179.56" y="511.04" width="3.86" height="4.69" fill="#d3d3ff"/><rect x="179.56" y="515.68" width="3.86" height="4.69" fill="#c0c0ff"/><rect x="179.56" y="520.32" width="3.86" height="4.69" fill="#a3a3ff"/><rect x="179.56" y="524.96" width="3.86" height="4.69" fill="#c0c0ff"/><rect x="179.56" y="529.60" width="3.86" height="4.69" fill="#d3d3ff"/><rect x="179.56" y="534.24" width="3.86" height="4.69" fill="#fafaff"/><rect x="179.56" y="538.88" width="3.86" height="4.69" fill="#fafaff"/><rect x="179.56" y="548.16" width="3.86" height="4.69" fill="#fafaff"/><rect x="183.37" y="501.76" width="3.86" height="4.69" fill="#d3d3ff"/><rect x="183.37" y="506.40" width="3.86" height="4.69" fill="#c0c0ff"/><rect x="183.37" y="511.04" width="3.86" height="4.69" fill="#6b6bff"/><rect x="183.37" y="515.68" width="3.86" height="4.69" fill="#a3a3ff"/><rect x="183.37" y="520.32" width="3.86" height="4.69" fill="#1f2feb"/><rect x="183.37" y="524.96" width="3.86" height="4.69" fill="#4f4fff"/><rect x="183.37" y="529.60" width="3.86" height="4.69" fill="#6b6bff"/><rect x="183.37" y="534.24" width="3.86" height="4.69" fill="#a3a3ff"/><rect x="183.37" y="538.88" width="3.86" height="4.69" fill="#fafaff"/><rect x="183.37" y="543.52" width="3.86" height="4.69" fill="#fafaff"/><rect x="187.18" y="497.12" width="3.86" height="4.69" fill="#fafaff"/><rect x="187.18" y="501.76" width="3.86" height="4.69" fill="#d3d3ff"/><rect x="187.18" y="506.40" width="3.86" height="4.69" fill="#d3d3ff"/><rect x="187.18" y="511.04" width="3.86" height="4.69" fill="#a3a3ff"/><rect x="187.18" y="515.68" width="3.86" height="4.69" fill="#8686ff"/><rect x="187.18" y="520.32" width="3.86" height="4.69" fill="#05629e"/><rect x="187.18" y="524.96" width="3.86" height="4.69" fill="#1f2feb"/><rect x="187.18" y="529.60" width="3.86" height="4.69" fill="#1f2feb"/><rect x="187.18" y="534.24" width="3.86" height="4.69" fill="#a3a3ff"/><rect x="187.18" y="538.88" width="3.86" height="4.69" fill="#fafaff"/><rect x="187.18" y="543.52" width="3.86" height="4.69" fill="#fafaff"/><rect x="190.99" y="506.40" width="3.86" height="4.69" fill="#fafaff"/><rect x="190.99" y="511.04" width="3.86" height="4.69" fill="#e2e2ff"/><rect x="190.99" y="515.68" width="3.86" height="4.69" fill="#d3d3ff"/><rect x="190.99" y="520.32" width="3.86" height="4.69" fill="#1f2feb"/><rect x="190.99" y="524.96" width="3.86" height="4.69" fill="#4f4fff"/><rect x="190.99" y="529.60" width="3.86" height="4.69" fill="#8686ff"/><rect x="190.99" y="534.24" width="3.86" height="4.69" fill="#d3d3ff"/><rect x="190.99" y="538.88" width="3.86" height="4.69" fill="#fafaff"/><rect x="194.80" y="473.92" width="3.86" height="4.69" fill="#fafaff"/><rect x="194.80" y="497.12" width="3.86" height="4.69" fill="#fafaff"/><rect x="194.80" y="501.76" width="3.86" height="4.69" fill="#fafaff"/><rect x="194.80" y="506.40" width="3.86" height="4.69" fill="#fafaff"/><rect x="194.80" y="511.04" width="3.86" height="4.69" fill="#e2e2ff"/><rect x="194.80" y="515.68" width="3.86" height="4.69" fill="#c0c0ff"/><rect x="194.80" y="520.32" width="3.86" height="4.69" fill="#c0c0ff"/><rect x="194.80" y="524.96" width="3.86" height="4.69" fill="#c0c0ff"/><rect x="194.80" y="529.60" width="3.86" height="4.69" fill="#d3d3ff"/><rect x="194.80" y="534.24" width="3.86" height="4.69" fill="#fafaff"/><rect x="198.61" y="501.76" width="3.86" height="4.69" fill="#fafaff"/><rect x="198.61" y="506.40" width="3.86" height="4.69" fill="#fafaff"/><rect x="198.61" y="511.04" width="3.86" height="4.69" fill="#d3d3ff"/><rect x="198.61" y="515.68" width="3.86" height="4.69" fill="#d3d3ff"/><rect x="198.61" y="520.32" width="3.86" height="4.69" fill="#c0c0ff"/><rect x="198.61" y="524.96" width="3.86" height="4.69" fill="#d3d3ff"/><rect x="198.61" y="529.60" width="3.86" height="4.69" fill="#fafaff"/><rect x="198.61" y="534.24" width="3.86" height="4.69" fill="#fafaff"/><rect x="202.42" y="511.04" width="3.86" height="4.69" fill="#f0f0ff"/><rect x="202.42" y="515.68" width="3.86" height="4.69" fill="#d3d3ff"/><rect x="202.42" y="520.32" width="3.86" height="4.69" fill="#d3d3ff"/><rect x="202.42" y="524.96" width="3.86" height="4.69" fill="#e2e2ff"/><rect x="202.42" y="529.60" width="3.86" height="4.69" fill="#fafaff"/><rect x="210.04" y="478.56" width="3.86" height="4.69" fill="#fafaff"/><rect x="217.66" y="478.56" width="3.86" height="4.69" fill="#fafaff"/></g></g>
</g>
<line x1="72.10" y1="404.9" x2="72.10" y2="674.7" stroke="#1a1a1a" stroke-width="1.3"/>
<line x1="112.06" y1="404.9" x2="112.06" y2="674.7" stroke="#1a1a1a" stroke-width="1.3"/>
<line x1="152.03" y1="404.9" x2="152.03" y2="674.7" stroke="#1a1a1a" stroke-width="1.3"/>
<line x1="192.00" y1="404.9" x2="192.00" y2="674.7" stroke="#1a1a1a" stroke-width="1.3"/>
<line x1="231.96" y1="404.9" x2="231.96" y2="674.7" stroke="#1a1a1a" stroke-width="1.3"/>
<line x1="271.92" y1="404.9" x2="271.92" y2="674.7" stroke="#1a1a1a" stroke-width="1.3"/>
<line x1="311.89" y1="404.9" x2="311.89" y2="674.7" stroke="#1a1a1a" stroke-width="1.3"/>
<line x1="52" y1="654.30" x2="321.5" y2="654.30" stroke="#1a1a1a" stroke-width="1.3"/>
<text x="38.80" y="654.30" font-family="'Liberation Sans', sans-serif" font-size="17" text-anchor="middle" font-weight="normal" font-style="normal" fill="#000" transform="rotate(-90 38.8 654.3)" stroke="#000" stroke-width="0.3">0.1</text>
<line x1="52" y1="614.33" x2="321.5" y2="614.33" stroke="#1a1a1a" stroke-width="1.3"/>
<text x="38.80" y="614.33" font-family="'Liberation Sans', sans-serif" font-size="17" text-anchor="middle" font-weight="normal" font-style="normal" fill="#000" transform="rotate(-90 38.8 614.3299999999999)" stroke="#000" stroke-width="0.3">0.2</text>
<line x1="52" y1="574.36" x2="321.5" y2="574.36" stroke="#1a1a1a" stroke-width="1.3"/>
<text x="38.80" y="574.36" font-family="'Liberation Sans', sans-serif" font-size="17" text-anchor="middle" font-weight="normal" font-style="normal" fill="#000" transform="rotate(-90 38.8 574.3599999999999)" stroke="#000" stroke-width="0.3">0.3</text>
<line x1="52" y1="534.39" x2="321.5" y2="534.39" stroke="#1a1a1a" stroke-width="1.3"/>
<text x="38.80" y="534.39" font-family="'Liberation Sans', sans-serif" font-size="17" text-anchor="middle" font-weight="normal" font-style="normal" fill="#000" transform="rotate(-90 38.8 534.39)" stroke="#000" stroke-width="0.3">0.4</text>
<line x1="52" y1="494.42" x2="321.5" y2="494.42" stroke="#1a1a1a" stroke-width="1.3"/>
<text x="38.80" y="494.42" font-family="'Liberation Sans', sans-serif" font-size="17" text-anchor="middle" font-weight="normal" font-style="normal" fill="#000" transform="rotate(-90 38.8 494.41999999999996)" stroke="#000" stroke-width="0.3">0.5</text>
<line x1="52" y1="454.45" x2="321.5" y2="454.45" stroke="#1a1a1a" stroke-width="1.3"/>
<text x="38.80" y="454.45" font-family="'Liberation Sans', sans-serif" font-size="17" text-anchor="middle" font-weight="normal" font-style="normal" fill="#000" transform="rotate(-90 38.8 454.44999999999993)" stroke="#000" stroke-width="0.3">0.6</text>
<line x1="52" y1="414.48" x2="321.5" y2="414.48" stroke="#1a1a1a" stroke-width="1.3"/>
<text x="38.80" y="414.48" font-family="'Liberation Sans', sans-serif" font-size="17" text-anchor="middle" font-weight="normal" font-style="normal" fill="#000" transform="rotate(-90 38.8 414.4799999999999)" stroke="#000" stroke-width="0.3">0.7</text>
<text x="72.10" y="700.60" font-family="'Liberation Sans', sans-serif" font-size="17" text-anchor="middle" font-weight="normal" font-style="normal" fill="#000" stroke="#000" stroke-width="0.3">0.15</text>
<text x="152.03" y="700.60" font-family="'Liberation Sans', sans-serif" font-size="17" text-anchor="middle" font-weight="normal" font-style="normal" fill="#000" stroke="#000" stroke-width="0.3">0.25</text>
<text x="231.96" y="700.60" font-family="'Liberation Sans', sans-serif" font-size="17" text-anchor="middle" font-weight="normal" font-style="normal" fill="#000" stroke="#000" stroke-width="0.3">0.35</text>
<text x="311.89" y="700.60" font-family="'Liberation Sans', sans-serif" font-size="17" text-anchor="middle" font-weight="normal" font-style="normal" fill="#000" stroke="#000" stroke-width="0.3">0.45</text>
<rect x="62.3" y="404.9" width="259.2" height="258.9" fill="none" stroke="#000" stroke-width="1.3"/>
<rect x="259.5" y="404.9" width="62" height="231.3" fill="#fff" stroke="#000" stroke-width="1.3"/>
<text x="290.30" y="424.60" font-family="'Liberation Sans', sans-serif" font-size="15.2" text-anchor="middle" font-weight="normal" font-style="normal" fill="#000" stroke="#000" stroke-width="0.3"># fixes</text>
<text x="287.90" y="449.60" font-family="'Liberation Sans', sans-serif" font-size="15.2" text-anchor="start" font-weight="normal" font-style="normal" fill="#000" stroke="#000" stroke-width="0.3">1</text>
<circle cx="273.9" cy="463.10" r="4.2" fill="#9999ff"/>
<text x="287.90" y="468.90" font-family="'Liberation Sans', sans-serif" font-size="15.2" text-anchor="start" font-weight="normal" font-style="normal" fill="#000" stroke="#000" stroke-width="0.3">22</text>
<circle cx="273.9" cy="482.40" r="4.2" fill="#3333ff"/>
<text x="287.90" y="488.20" font-family="'Liberation Sans', sans-serif" font-size="15.2" text-anchor="start" font-weight="normal" font-style="normal" fill="#000" stroke="#000" stroke-width="0.3">44</text>
<circle cx="273.9" cy="501.70" r="4.2" fill="#0a2ad6"/>
<text x="287.90" y="507.50" font-family="'Liberation Sans', sans-serif" font-size="15.2" text-anchor="start" font-weight="normal" font-style="normal" fill="#000" stroke="#000" stroke-width="0.3">65</text>
<circle cx="273.9" cy="521.00" r="4.2" fill="#009966"/>
<text x="287.90" y="526.80" font-family="'Liberation Sans', sans-serif" font-size="15.2" text-anchor="start" font-weight="normal" font-style="normal" fill="#000" stroke="#000" stroke-width="0.3">87</text>
<circle cx="273.9" cy="540.30" r="4.2" fill="#00ff1a"/>
<text x="287.90" y="546.10" font-family="'Liberation Sans', sans-serif" font-size="15.2" text-anchor="start" font-weight="normal" font-style="normal" fill="#000" stroke="#000" stroke-width="0.3">108</text>
<circle cx="273.9" cy="559.60" r="4.2" fill="#66ff11"/>
<text x="287.90" y="565.40" font-family="'Liberation Sans', sans-serif" font-size="15.2" text-anchor="start" font-weight="normal" font-style="normal" fill="#000" stroke="#000" stroke-width="0.3">129</text>
<circle cx="273.9" cy="578.90" r="4.2" fill="#ccff00"/>
<text x="287.90" y="584.70" font-family="'Liberation Sans', sans-serif" font-size="15.2" text-anchor="start" font-weight="normal" font-style="normal" fill="#000" stroke="#000" stroke-width="0.3">151</text>
<circle cx="273.9" cy="598.20" r="4.2" fill="#ffc800"/>
<text x="287.90" y="604.00" font-family="'Liberation Sans', sans-serif" font-size="15.2" text-anchor="start" font-weight="normal" font-style="normal" fill="#000" stroke="#000" stroke-width="0.3">172</text>
<circle cx="273.9" cy="617.50" r="4.2" fill="#ff6600"/>
<text x="287.90" y="623.30" font-family="'Liberation Sans', sans-serif" font-size="15.2" text-anchor="start" font-weight="normal" font-style="normal" fill="#000" stroke="#000" stroke-width="0.3">194</text>
<text x="195.40" y="444.80" font-family="'Liberation Sans', sans-serif" font-size="16" stroke="#000" stroke-width="0.3">P</text><text x="206.10" y="448.00" font-family="'Liberation Sans', sans-serif" font-size="11" stroke="#000" stroke-width="0.1">p1</text><line x1="222.60" y1="441.60" x2="223.80" y2="465.50" stroke="#000" stroke-width="1.5"/><polyline points="218.64,457.52 223.80,465.50 228.13,457.04" fill="none" stroke="#000" stroke-width="1.5"/><text x="82.50" y="481.60" font-family="'Liberation Sans', sans-serif" font-size="16" stroke="#000" stroke-width="0.3">P</text><text x="92.90" y="484.80" font-family="'Liberation Sans', sans-serif" font-size="11" stroke="#000" stroke-width="0.1">p2</text><line x1="89.60" y1="478.70" x2="91.90" y2="518.40" stroke="#000" stroke-width="1.5"/><polyline points="86.68,510.46 91.90,518.40 96.17,509.91" fill="none" stroke="#000" stroke-width="1.5"/><text x="114.90" y="514.70" font-family="'Liberation Sans', sans-serif" font-size="16" stroke="#000" stroke-width="0.3">P</text><text x="126.20" y="517.80" font-family="'Liberation Sans', sans-serif" font-size="11" stroke="#000" stroke-width="0.1">a</text><line x1="131.60" y1="510.50" x2="152.10" y2="531.80" stroke="#000" stroke-width="1.5"/><polyline points="142.97,529.17 152.10,531.80 149.82,522.58" fill="none" stroke="#000" stroke-width="1.5"/><text x="157.10" y="512.80" font-family="'Liberation Sans', sans-serif" font-size="16" stroke="#000" stroke-width="0.3">P</text><text x="168.30" y="515.90" font-family="'Liberation Sans', sans-serif" font-size="11" stroke="#000" stroke-width="0.1">t</text><line x1="171.50" y1="508.70" x2="177.60" y2="532.60" stroke="#000" stroke-width="1.5"/><polyline points="170.96,525.80 177.60,532.60 180.17,523.45" fill="none" stroke="#000" stroke-width="1.5"/><text x="156.00" y="569.20" font-family="'Liberation Sans', sans-serif" font-size="16" stroke="#000" stroke-width="0.3">P</text><text x="166.70" y="572.30" font-family="'Liberation Sans', sans-serif" font-size="11" stroke="#000" stroke-width="0.1">r</text><line x1="171.00" y1="564.70" x2="177.60" y2="592.80" stroke="#000" stroke-width="1.5"/><polyline points="171.09,585.88 177.60,592.80 180.34,583.70" fill="none" stroke="#000" stroke-width="1.5"/>
<text x="191.90" y="721.00" font-family="'Liberation Sans', sans-serif" font-size="17.5" text-anchor="middle" font-weight="normal" font-style="normal" fill="#000" >x</text>
<text x="17.30" y="534.50" font-family="'Liberation Sans', sans-serif" font-size="17" text-anchor="middle" font-weight="normal" font-style="normal" fill="#000" transform="rotate(-90 17.3 534.5)" >y</text>
</g>
<text x="0.00" y="745.60" font-family="'Liberation Serif', serif" font-size="21" text-anchor="start" font-weight="normal" font-style="normal" fill="#000">d)</text>
<text x="156.1" y="744.40" font-family="'Liberation Serif', serif" font-size="16.5" textLength="52.3" lengthAdjust="spacingAndGlyphs">red SPs</text>
<g transform="translate(0,365)">
<g clip-path="url(#clipB)"><g filter="url(#blurM)"><use href="#map" transform="matrix(1.43966,0,0,1.66681,-169.45,212.23)"/><polygon points="238.0,412.7 327.2,412.7 327.2,488.9 309.7,476.4 251.8,433.6" fill="#dadada"/><polyline points="238.0,420.2 251.8,433.6 309.7,476.4" fill="none" stroke="#f4f4f4" stroke-width="3"/><polyline points="61.3,294.6 161.7,380.4 205.6,420.2 238.0,448.4 309.7,508.6 315.3,512.3 450.6,610.6 566.6,680.6 610.1,694.4" fill="none" stroke="#6a6a6a" stroke-width="3.4"/><polyline points="61.3,294.6 161.7,380.4 205.6,420.2 238.0,448.4 309.7,508.6 315.3,512.3 450.6,610.6 566.6,680.6 610.1,694.4" fill="none" stroke="#d4d4d4" stroke-width="1.8"/><polyline points="309.7,328.6 276.8,370.6 257.1,408.9 251.8,420.2 248.1,425.6" fill="none" stroke="#8a8a8a" stroke-width="0.7"/></g>
<g filter="url(#blurH)"><g shape-rendering="crispEdges"><rect x="122.41" y="543.52" width="3.86" height="4.69" fill="#fafaff"/><rect x="122.41" y="548.16" width="3.86" height="4.69" fill="#fafaff"/><rect x="126.22" y="543.52" width="3.86" height="4.69" fill="#fafaff"/><rect x="126.22" y="548.16" width="3.86" height="4.69" fill="#fafaff"/><rect x="126.22" y="557.44" width="3.86" height="4.69" fill="#fafaff"/><rect x="130.03" y="534.24" width="3.86" height="4.69" fill="#fafaff"/><rect x="130.03" y="538.88" width="3.86" height="4.69" fill="#fafaff"/><rect x="130.03" y="543.52" width="3.86" height="4.69" fill="#fafaff"/><rect x="130.03" y="548.16" width="3.86" height="4.69" fill="#f0f0ff"/><rect x="130.03" y="557.44" width="3.86" height="4.69" fill="#fafaff"/><rect x="133.84" y="520.32" width="3.86" height="4.69" fill="#d3d3ff"/><rect x="133.84" y="524.96" width="3.86" height="4.69" fill="#c0c0ff"/><rect x="133.84" y="529.60" width="3.86" height="4.69" fill="#a3a3ff"/><rect x="133.84" y="534.24" width="3.86" height="4.69" fill="#fafaff"/><rect x="133.84" y="538.88" width="3.86" height="4.69" fill="#f0f0ff"/><rect x="133.84" y="543.52" width="3.86" height="4.69" fill="#f0f0ff"/><rect x="133.84" y="548.16" width="3.86" height="4.69" fill="#f0f0ff"/><rect x="133.84" y="552.80" width="3.86" height="4.69" fill="#fafaff"/><rect x="133.84" y="557.44" width="3.86" height="4.69" fill="#fafaff"/><rect x="137.65" y="520.32" width="3.86" height="4.69" fill="#fafaff"/><rect x="137.65" y="524.96" width="3.86" height="4.69" fill="#d3d3ff"/><rect x="137.65" y="529.60" width="3.86" height="4.69" fill="#6b6bff"/><rect x="137.65" y="534.24" width="3.86" height="4.69" fill="#e2e2ff"/><rect x="137.65" y="538.88" width="3.86" height="4.69" fill="#fafaff"/><rect x="137.65" y="543.52" width="3.86" height="4.69" fill="#f0f0ff"/><rect x="137.65" y="548.16" width="3.86" height="4.69" fill="#f0f0ff"/><rect x="137.65" y="552.80" width="3.86" height="4.69" fill="#e2e2ff"/><rect x="137.65" y="557.44" width="3.86" height="4.69" fill="#fafaff"/><rect x="141.46" y="511.04" width="3.86" height="4.69" fill="#fafaff"/><rect x="141.46" y="524.96" width="3.86" height="4.69" fill="#fafaff"/><rect x="141.46" y="529.60" width="3.86" height="4.69" fill="#a3a3ff"/><rect x="141.46" y="534.24" width="3.86" height="4.69" fill="#e2e2ff"/><rect x="141.46" y="543.52" width="3.86" height="4.69" fill="#fafaff"/><rect x="141.46" y="548.16" width="3.86" height="4.69" fill="#fafaff"/><rect x="141.46" y="552.80" width="3.86" height="4.69" fill="#e2e2ff"/><rect x="141.46" y="557.44" width="3.86" height="4.69" fill="#fafaff"/><rect x="145.27" y="511.04" width="3.86" height="4.69" fill="#fafaff"/><rect x="145.27" y="520.32" width="3.86" height="4.69" fill="#fafaff"/><rect x="145.27" y="524.96" width="3.86" height="4.69" fill="#fafaff"/><rect x="145.27" y="529.60" width="3.86" height="4.69" fill="#c0c0ff"/><rect x="145.27" y="534.24" width="3.86" height="4.69" fill="#f0f0ff"/><rect x="145.27" y="538.88" width="3.86" height="4.69" fill="#fafaff"/><rect x="145.27" y="543.52" width="3.86" height="4.69" fill="#fafaff"/><rect x="145.27" y="548.16" width="3.86" height="4.69" fill="#fafaff"/><rect x="145.27" y="552.80" width="3.86" height="4.69" fill="#fafaff"/><rect x="145.27" y="557.44" width="3.86" height="4.69" fill="#f0f0ff"/><rect x="145.27" y="562.08" width="3.86" height="4.69" fill="#f0f0ff"/><rect x="149.08" y="460.00" width="3.86" height="4.69" fill="#fafaff"/><rect x="149.08" y="501.76" width="3.86" height="4.69" fill="#fafaff"/><rect x="149.08" y="506.40" width="3.86" height="4.69" fill="#fafaff"/><rect x="149.08" y="511.04" width="3.86" height="4.69" fill="#fafaff"/><rect x="149.08" y="524.96" width="3.86" height="4.69" fill="#c0c0ff"/><rect x="149.08" y="529.60" width="3.86" height="4.69" fill="#a3a3ff"/><rect x="149.08" y="534.24" width="3.86" height="4.69" fill="#fafaff"/><rect x="149.08" y="538.88" width="3.86" height="4.69" fill="#fafaff"/><rect x="152.89" y="441.44" width="3.86" height="4.69" fill="#fafaff"/><rect x="152.89" y="446.08" width="3.86" height="4.69" fill="#fafaff"/><rect x="152.89" y="464.64" width="3.86" height="4.69" fill="#fafaff"/><rect x="152.89" y="492.48" width="3.86" height="4.69" fill="#f0f0ff"/><rect x="152.89" y="497.12" width="3.86" height="4.69" fill="#fafaff"/><rect x="152.89" y="501.76" width="3.86" height="4.69" fill="#fafaff"/><rect x="152.89" y="506.40" width="3.86" height="4.69" fill="#fafaff"/><rect x="152.89" y="511.04" width="3.86" height="4.69" fill="#a3a3ff"/><rect x="152.89" y="515.68" width="3.86" height="4.69" fill="#e2e2ff"/><rect x="152.89" y="520.32" width="3.86" height="4.69" fill="#4f4fff"/><rect x="152.89" y="524.96" width="3.86" height="4.69" fill="#1f2feb"/><rect x="152.89" y="529.60" width="3.86" height="4.69" fill="#1f2feb"/><rect x="152.89" y="534.24" width="3.86" height="4.69" fill="#a3a3ff"/><rect x="152.89" y="538.88" width="3.86" height="4.69" fill="#f0f0ff"/><rect x="152.89" y="543.52" width="3.86" height="4.69" fill="#fafaff"/><rect x="152.89" y="548.16" width="3.86" height="4.69" fill="#fafaff"/><rect x="156.70" y="450.72" width="3.86" height="4.69" fill="#fafaff"/><rect x="156.70" y="460.00" width="3.86" height="4.69" fill="#fafaff"/><rect x="156.70" y="473.92" width="3.86" height="4.69" fill="#fafaff"/><rect x="156.70" y="478.56" width="3.86" height="4.69" fill="#fafaff"/><rect x="156.70" y="492.48" width="3.86" height="4.69" fill="#f0f0ff"/><rect x="156.70" y="497.12" width="3.86" height="4.69" fill="#fafaff"/><rect x="156.70" y="511.04" width="3.86" height="4.69" fill="#fafaff"/><rect x="156.70" y="515.68" width="3.86" height="4.69" fill="#4f4fff"/><rect x="156.70" y="520.32" width="3.86" height="4.69" fill="#4f4fff"/><rect x="156.70" y="524.96" width="3.86" height="4.69" fill="#05629e"/><rect x="156.70" y="529.60" width="3.86" height="4.69" fill="#1f2feb"/><rect x="156.70" y="534.24" width="3.86" height="4.69" fill="#d3d3ff"/><rect x="156.70" y="538.88" width="3.86" height="4.69" fill="#fafaff"/><rect x="156.70" y="543.52" width="3.86" height="4.69" fill="#fafaff"/><rect x="156.70" y="548.16" width="3.86" height="4.69" fill="#fafaff"/><rect x="160.51" y="464.64" width="3.86" height="4.69" fill="#fafaff"/><rect x="160.51" y="478.56" width="3.86" height="4.69" fill="#fafaff"/><rect x="160.51" y="511.04" width="3.86" height="4.69" fill="#f0f0ff"/><rect x="160.51" y="515.68" width="3.86" height="4.69" fill="#e2e2ff"/><rect x="160.51" y="520.32" width="3.86" height="4.69" fill="#fafaff"/><rect x="160.51" y="524.96" width="3.86" height="4.69" fill="#3333ff"/><rect x="160.51" y="529.60" width="3.86" height="4.69" fill="#3333ff"/><rect x="160.51" y="534.24" width="3.86" height="4.69" fill="#e2e2ff"/><rect x="160.51" y="538.88" width="3.86" height="4.69" fill="#e2e2ff"/><rect x="160.51" y="543.52" width="3.86" height="4.69" fill="#fafaff"/><rect x="160.51" y="548.16" width="3.86" height="4.69" fill="#fafaff"/><rect x="164.32" y="460.00" width="3.86" height="4.69" fill="#fafaff"/><rect x="164.32" y="511.04" width="3.86" height="4.69" fill="#e2e2ff"/><rect x="164.32" y="515.68" width="3.86" height="4.69" fill="#d3d3ff"/><rect x="164.32" y="520.32" width="3.86" height="4.69" fill="#4f4fff"/><rect x="164.32" y="524.96" width="3.86" height="4.69" fill="#4f4fff"/><rect x="164.32" y="529.60" width="3.86" height="4.69" fill="#4f4fff"/><rect x="164.32" y="534.24" width="3.86" height="4.69" fill="#0a2ad6"/><rect x="164.32" y="538.88" width="3.86" height="4.69" fill="#c0c0ff"/><rect x="164.32" y="543.52" width="3.86" height="4.69" fill="#e2e2ff"/><rect x="164.32" y="548.16" width="3.86" height="4.69" fill="#f0f0ff"/><rect x="168.13" y="478.56" width="3.86" height="4.69" fill="#fafaff"/><rect x="168.13" y="487.84" width="3.86" height="4.69" fill="#fafaff"/><rect x="168.13" y="497.12" width="3.86" height="4.69" fill="#f0f0ff"/><rect x="168.13" y="501.76" width="3.86" height="4.69" fill="#fafaff"/><rect x="168.13" y="511.04" width="3.86" height="4.69" fill="#f0f0ff"/><rect x="168.13" y="515.68" width="3.86" height="4.69" fill="#c0c0ff"/><rect x="168.13" y="520.32" width="3.86" height="4.69" fill="#3333ff"/><rect x="168.13" y="524.96" width="3.86" height="4.69" fill="#1f2feb"/><rect x="168.13" y="529.60" width="3.86" height="4.69" fill="#3333ff"/><rect x="168.13" y="534.24" width="3.86" height="4.69" fill="#4f4fff"/><rect x="168.13" y="538.88" width="3.86" height="4.69" fill="#018a75"/><rect x="168.13" y="543.52" width="3.86" height="4.69" fill="#fafaff"/><rect x="168.13" y="548.16" width="3.86" height="4.69" fill="#f0f0ff"/><rect x="171.94" y="432.16" width="3.86" height="4.69" fill="#fafaff"/><rect x="171.94" y="450.72" width="3.86" height="4.69" fill="#fafaff"/><rect x="171.94" y="460.00" width="3.86" height="4.69" fill="#fafaff"/><rect x="171.94" y="464.64" width="3.86" height="4.69" fill="#fafaff"/><rect x="171.94" y="487.84" width="3.86" height="4.69" fill="#fafaff"/><rect x="171.94" y="497.12" width="3.86" height="4.69" fill="#fafaff"/><rect x="171.94" y="501.76" width="3.86" height="4.69" fill="#fafaff"/><rect x="171.94" y="506.40" width="3.86" height="4.69" fill="#e2e2ff"/><rect x="171.94" y="511.04" width="3.86" height="4.69" fill="#8686ff"/><rect x="171.94" y="515.68" width="3.86" height="4.69" fill="#4f4fff"/><rect x="171.94" y="520.32" width="3.86" height="4.69" fill="#3333ff"/><rect x="171.94" y="524.96" width="3.86" height="4.69" fill="#3333ff"/><rect x="171.94" y="529.60" width="3.86" height="4.69" fill="#1f2feb"/><rect x="171.94" y="534.24" width="3.86" height="4.69" fill="#8686ff"/><rect x="171.94" y="538.88" width="3.86" height="4.69" fill="#c0c0ff"/><rect x="171.94" y="543.52" width="3.86" height="4.69" fill="#f0f0ff"/><rect x="171.94" y="548.16" width="3.86" height="4.69" fill="#fafaff"/><rect x="171.94" y="552.80" width="3.86" height="4.69" fill="#fafaff"/><rect x="171.94" y="594.56" width="3.86" height="4.69" fill="#fafaff"/><rect x="175.75" y="427.52" width="3.86" height="4.69" fill="#fafaff"/><rect x="175.75" y="487.84" width="3.86" height="4.69" fill="#fafaff"/><rect x="175.75" y="501.76" width="3.86" height="4.69" fill="#e2e2ff"/><rect x="175.75" y="506.40" width="3.86" height="4.69" fill="#d3d3ff"/><rect x="175.75" y="511.04" width="3.86" height="4.69" fill="#d3d3ff"/><rect x="175.75" y="515.68" width="3.86" height="4.69" fill="#4f4fff"/><rect x="175.75" y="520.32" width="3.86" height="4.69" fill="#ccff00"/><rect x="175.75" y="524.96" width="3.86" height="4.69" fill="#00ff1a"/><rect x="175.75" y="529.60" width="3.86" height="4.69" fill="#00ff1a"/><rect x="175.75" y="534.24" width="3.86" height="4.69" fill="#e2e2ff"/><rect x="175.75" y="538.88" width="3.86" height="4.69" fill="#fafaff"/><rect x="175.75" y="543.52" width="3.86" height="4.69" fill="#fafaff"/><rect x="179.56" y="464.64" width="3.86" height="4.69" fill="#fafaff"/><rect x="179.56" y="497.12" width="3.86" height="4.69" fill="#fafaff"/><rect x="179.56" y="501.76" width="3.86" height="4.69" fill="#e2e2ff"/><rect x="179.56" y="506.40" width="3.86" height="4.69" fill="#d3d3ff"/><rect x="179.56" y="511.04" width="3.86" height="4.69" fill="#c0c0ff"/><rect x="179.56" y="515.68" width="3.86" height="4.69" fill="#c0c0ff"/><rect x="179.56" y="520.32" width="3.86" height="4.69" fill="#4f4fff"/><rect x="179.56" y="524.96" width="3.86" height="4.69" fill="#1f2feb"/><rect x="179.56" y="529.60" width="3.86" height="4.69" fill="#1f2feb"/><rect x="179.56" y="534.24" width="3.86" height="4.69" fill="#a3a3ff"/><rect x="179.56" y="538.88" width="3.86" height="4.69" fill="#c0c0ff"/><rect x="179.56" y="543.52" width="3.86" height="4.69" fill="#f0f0ff"/><rect x="179.56" y="548.16" width="3.86" height="4.69" fill="#fafaff"/><rect x="183.37" y="436.80" width="3.86" height="4.69" fill="#fafaff"/><rect x="183.37" y="483.20" width="3.86" height="4.69" fill="#fafaff"/><rect x="183.37" y="501.76" width="3.86" height="4.69" fill="#fafaff"/><rect x="183.37" y="506.40" width="3.86" height="4.69" fill="#fafaff"/><rect x="183.37" y="511.04" width="3.86" height="4.69" fill="#d3d3ff"/><rect x="183.37" y="515.68" width="3.86" height="4.69" fill="#e2e2ff"/><rect x="183.37" y="520.32" width="3.86" height="4.69" fill="#d3d3ff"/><rect x="183.37" y="524.96" width="3.86" height="4.69" fill="#1f2feb"/><rect x="183.37" y="529.60" width="3.86" height="4.69" fill="#1f2feb"/><rect x="183.37" y="534.24" width="3.86" height="4.69" fill="#a3a3ff"/><rect x="183.37" y="538.88" width="3.86" height="4.69" fill="#a3a3ff"/><rect x="183.37" y="543.52" width="3.86" height="4.69" fill="#fafaff"/><rect x="183.37" y="548.16" width="3.86" height="4.69" fill="#fafaff"/><rect x="187.18" y="441.44" width="3.86" height="4.69" fill="#fafaff"/><rect x="187.18" y="487.84" width="3.86" height="4.69" fill="#fafaff"/><rect x="187.18" y="497.12" width="3.86" height="4.69" fill="#fafaff"/><rect x="187.18" y="501.76" width="3.86" height="4.69" fill="#fafaff"/><rect x="187.18" y="506.40" width="3.86" height="4.69" fill="#fafaff"/><rect x="187.18" y="511.04" width="3.86" height="4.69" fill="#a3a3ff"/><rect x="187.18" y="515.68" width="3.86" height="4.69" fill="#6b6bff"/><rect x="187.18" y="520.32" width="3.86" height="4.69" fill="#d3d3ff"/><rect x="187.18" y="524.96" width="3.86" height="4.69" fill="#8686ff"/><rect x="187.18" y="529.60" width="3.86" height="4.69" fill="#fafaff"/><rect x="187.18" y="534.24" width="3.86" height="4.69" fill="#c0c0ff"/><rect x="187.18" y="538.88" width="3.86" height="4.69" fill="#d3d3ff"/><rect x="187.18" y="543.52" width="3.86" height="4.69" fill="#fafaff"/><rect x="190.99" y="483.20" width="3.86" height="4.69" fill="#fafaff"/><rect x="190.99" y="492.48" width="3.86" height="4.69" fill="#fafaff"/><rect x="190.99" y="497.12" width="3.86" height="4.69" fill="#fafaff"/><rect x="190.99" y="501.76" width="3.86" height="4.69" fill="#fafaff"/><rect x="190.99" y="506.40" width="3.86" height="4.69" fill="#fafaff"/><rect x="190.99" y="511.04" width="3.86" height="4.69" fill="#f0f0ff"/><rect x="190.99" y="515.68" width="3.86" height="4.69" fill="#d3d3ff"/><rect x="190.99" y="520.32" width="3.86" height="4.69" fill="#f0f0ff"/><rect x="190.99" y="524.96" width="3.86" height="4.69" fill="#f0f0ff"/><rect x="190.99" y="529.60" width="3.86" height="4.69" fill="#4f4fff"/><rect x="190.99" y="534.24" width="3.86" height="4.69" fill="#e2e2ff"/><rect x="190.99" y="538.88" width="3.86" height="4.69" fill="#fafaff"/><rect x="194.80" y="427.52" width="3.86" height="4.69" fill="#fafaff"/><rect x="194.80" y="446.08" width="3.86" height="4.69" fill="#fafaff"/><rect x="194.80" y="450.72" width="3.86" height="4.69" fill="#fafaff"/><rect x="194.80" y="478.56" width="3.86" height="4.69" fill="#f0f0ff"/><rect x="194.80" y="483.20" width="3.86" height="4.69" fill="#f0f0ff"/><rect x="194.80" y="487.84" width="3.86" height="4.69" fill="#fafaff"/><rect x="194.80" y="492.48" width="3.86" height="4.69" fill="#fafaff"/><rect x="194.80" y="497.12" width="3.86" height="4.69" fill="#fafaff"/><rect x="194.80" y="501.76" width="3.86" height="4.69" fill="#fafaff"/><rect x="194.80" y="506.40" width="3.86" height="4.69" fill="#fafaff"/><rect x="194.80" y="511.04" width="3.86" height="4.69" fill="#fafaff"/><rect x="194.80" y="515.68" width="3.86" height="4.69" fill="#f0f0ff"/><rect x="194.80" y="520.32" width="3.86" height="4.69" fill="#fafaff"/><rect x="194.80" y="524.96" width="3.86" height="4.69" fill="#fafaff"/><rect x="194.80" y="529.60" width="3.86" height="4.69" fill="#e2e2ff"/><rect x="194.80" y="534.24" width="3.86" height="4.69" fill="#e2e2ff"/><rect x="194.80" y="538.88" width="3.86" height="4.69" fill="#fafaff"/><rect x="198.61" y="478.56" width="3.86" height="4.69" fill="#f0f0ff"/><rect x="198.61" y="483.20" width="3.86" height="4.69" fill="#e2e2ff"/><rect x="198.61" y="487.84" width="3.86" height="4.69" fill="#fafaff"/><rect x="198.61" y="492.48" width="3.86" height="4.69" fill="#fafaff"/><rect x="198.61" y="497.12" width="3.86" height="4.69" fill="#fafaff"/><rect x="198.61" y="501.76" width="3.86" height="4.69" fill="#fafaff"/><rect x="198.61" y="506.40" width="3.86" height="4.69" fill="#c0c0ff"/><rect x="198.61" y="511.04" width="3.86" height="4.69" fill="#e2e2ff"/><rect x="198.61" y="515.68" width="3.86" height="4.69" fill="#fafaff"/><rect x="198.61" y="520.32" width="3.86" height="4.69" fill="#fafaff"/><rect x="198.61" y="529.60" width="3.86" height="4.69" fill="#fafaff"/><rect x="198.61" y="534.24" width="3.86" height="4.69" fill="#fafaff"/><rect x="202.42" y="469.28" width="3.86" height="4.69" fill="#fafaff"/><rect x="202.42" y="478.56" width="3.86" height="4.69" fill="#fafaff"/><rect x="202.42" y="483.20" width="3.86" height="4.69" fill="#fafaff"/><rect x="202.42" y="492.48" width="3.86" height="4.69" fill="#fafaff"/><rect x="202.42" y="501.76" width="3.86" height="4.69" fill="#fafaff"/><rect x="202.42" y="506.40" width="3.86" height="4.69" fill="#f0f0ff"/><rect x="202.42" y="511.04" width="3.86" height="4.69" fill="#e2e2ff"/><rect x="202.42" y="515.68" width="3.86" height="4.69" fill="#fafaff"/><rect x="202.42" y="520.32" width="3.86" height="4.69" fill="#fafaff"/><rect x="202.42" y="524.96" width="3.86" height="4.69" fill="#fafaff"/><rect x="202.42" y="529.60" width="3.86" height="4.69" fill="#fafaff"/><rect x="202.42" y="534.24" width="3.86" height="4.69" fill="#fafaff"/><rect x="202.42" y="538.88" width="3.86" height="4.69" fill="#fafaff"/><rect x="206.23" y="422.88" width="3.86" height="4.69" fill="#fafaff"/><rect x="206.23" y="464.64" width="3.86" height="4.69" fill="#fafaff"/><rect x="206.23" y="478.56" width="3.86" height="4.69" fill="#fafaff"/><rect x="206.23" y="483.20" width="3.86" height="4.69" fill="#fafaff"/><rect x="206.23" y="492.48" width="3.86" height="4.69" fill="#fafaff"/><rect x="206.23" y="497.12" width="3.86" height="4.69" fill="#fafaff"/><rect x="206.23" y="506.40" width="3.86" height="4.69" fill="#fafaff"/><rect x="206.23" y="511.04" width="3.86" height="4.69" fill="#fafaff"/><rect x="206.23" y="515.68" width="3.86" height="4.69" fill="#e2e2ff"/><rect x="206.23" y="520.32" width="3.86" height="4.69" fill="#fafaff"/><rect x="206.23" y="524.96" width="3.86" height="4.69" fill="#fafaff"/><rect x="206.23" y="529.60" width="3.86" height="4.69" fill="#f0f0ff"/><rect x="206.23" y="534.24" width="3.86" height="4.69" fill="#fafaff"/><rect x="206.23" y="538.88" width="3.86" height="4.69" fill="#f0f0ff"/><rect x="206.23" y="543.52" width="3.86" height="4.69" fill="#fafaff"/><rect x="210.04" y="469.28" width="3.86" height="4.69" fill="#fafaff"/><rect x="210.04" y="473.92" width="3.86" height="4.69" fill="#fafaff"/><rect x="210.04" y="487.84" width="3.86" height="4.69" fill="#fafaff"/><rect x="210.04" y="492.48" width="3.86" height="4.69" fill="#fafaff"/><rect x="210.04" y="497.12" width="3.86" height="4.69" fill="#fafaff"/><rect x="210.04" y="501.76" width="3.86" height="4.69" fill="#fafaff"/><rect x="210.04" y="506.40" width="3.86" height="4.69" fill="#f0f0ff"/><rect x="210.04" y="511.04" width="3.86" height="4.69" fill="#fafaff"/><rect x="210.04" y="515.68" width="3.86" height="4.69" fill="#fafaff"/><rect x="210.04" y="524.96" width="3.86" height="4.69" fill="#fafaff"/><rect x="210.04" y="538.88" width="3.86" height="4.69" fill="#fafaff"/><rect x="210.04" y="543.52" width="3.86" height="4.69" fill="#fafaff"/><rect x="210.04" y="548.16" width="3.86" height="4.69" fill="#fafaff"/><rect x="213.85" y="483.20" width="3.86" height="4.69" fill="#fafaff"/><rect x="213.85" y="487.84" width="3.86" height="4.69" fill="#fafaff"/><rect x="213.85" y="492.48" width="3.86" height="4.69" fill="#fafaff"/><rect x="213.85" y="497.12" width="3.86" height="4.69" fill="#fafaff"/><rect x="213.85" y="501.76" width="3.86" height="4.69" fill="#fafaff"/><rect x="213.85" y="506.40" width="3.86" height="4.69" fill="#d3d3ff"/><rect x="213.85" y="511.04" width="3.86" height="4.69" fill="#e2e2ff"/><rect x="213.85" y="515.68" width="3.86" height="4.69" fill="#f0f0ff"/><rect x="213.85" y="520.32" width="3.86" height="4.69" fill="#f0f0ff"/><rect x="213.85" y="524.96" width="3.86" height="4.69" fill="#fafaff"/><rect x="213.85" y="529.60" width="3.86" height="4.69" fill="#fafaff"/><rect x="213.85" y="534.24" width="3.86" height="4.69" fill="#fafaff"/><rect x="217.66" y="422.88" width="3.86" height="4.69" fill="#fafaff"/><rect x="217.66" y="446.08" width="3.86" height="4.69" fill="#fafaff"/><rect x="217.66" y="478.56" width="3.86" height="4.69" fill="#fafaff"/><rect x="217.66" y="483.20" width="3.86" height="4.69" fill="#f0f0ff"/><rect x="217.66" y="487.84" width="3.86" height="4.69" fill="#e2e2ff"/><rect x="217.66" y="492.48" width="3.86" height="4.69" fill="#fafaff"/><rect x="217.66" y="497.12" width="3.86" height="4.69" fill="#e2e2ff"/><rect x="217.66" y="501.76" width="3.86" height="4.69" fill="#fafaff"/><rect x="217.66" y="506.40" width="3.86" height="4.69" fill="#d3d3ff"/><rect x="217.66" y="511.04" width="3.86" height="4.69" fill="#f0f0ff"/><rect x="217.66" y="515.68" width="3.86" height="4.69" fill="#d3d3ff"/><rect x="217.66" y="520.32" width="3.86" height="4.69" fill="#f0f0ff"/><rect x="217.66" y="524.96" width="3.86" height="4.69" fill="#fafaff"/><rect x="217.66" y="529.60" width="3.86" height="4.69" fill="#fafaff"/><rect x="217.66" y="534.24" width="3.86" height="4.69" fill="#fafaff"/><rect x="221.47" y="469.28" width="3.86" height="4.69" fill="#fafaff"/><rect x="221.47" y="478.56" width="3.86" height="4.69" fill="#f0f0ff"/><rect x="221.47" y="483.20" width="3.86" height="4.69" fill="#f0f0ff"/><rect x="221.47" y="487.84" width="3.86" height="4.69" fill="#e2e2ff"/><rect x="221.47" y="492.48" width="3.86" height="4.69" fill="#f0f0ff"/><rect x="221.47" y="497.12" width="3.86" height="4.69" fill="#f0f0ff"/><rect x="221.47" y="501.76" width="3.86" height="4.69" fill="#e2e2ff"/><rect x="221.47" y="506.40" width="3.86" height="4.69" fill="#f0f0ff"/><rect x="221.47" y="511.04" width="3.86" height="4.69" fill="#fafaff"/><rect x="221.47" y="515.68" width="3.86" height="4.69" fill="#f0f0ff"/><rect x="221.47" y="520.32" width="3.86" height="4.69" fill="#fafaff"/><rect x="221.47" y="524.96" width="3.86" height="4.69" fill="#e2e2ff"/><rect x="221.47" y="529.60" width="3.86" height="4.69" fill="#e2e2ff"/><rect x="221.47" y="534.24" width="3.86" height="4.69" fill="#fafaff"/><rect x="221.47" y="538.88" width="3.86" height="4.69" fill="#fafaff"/><rect x="221.47" y="543.52" width="3.86" height="4.69" fill="#fafaff"/><rect x="225.28" y="422.88" width="3.86" height="4.69" fill="#fafaff"/><rect x="225.28" y="469.28" width="3.86" height="4.69" fill="#f0f0ff"/><rect x="225.28" y="473.92" width="3.86" height="4.69" fill="#f0f0ff"/><rect x="225.28" y="478.56" width="3.86" height="4.69" fill="#e2e2ff"/><rect x="225.28" y="483.20" width="3.86" height="4.69" fill="#f0f0ff"/><rect x="225.28" y="487.84" width="3.86" height="4.69" fill="#e2e2ff"/><rect x="225.28" y="492.48" width="3.86" height="4.69" fill="#e2e2ff"/><rect x="225.28" y="497.12" width="3.86" height="4.69" fill="#e2e2ff"/><rect x="225.28" y="501.76" width="3.86" height="4.69" fill="#f0f0ff"/><rect x="225.28" y="506.40" width="3.86" height="4.69" fill="#e2e2ff"/><rect x="225.28" y="511.04" width="3.86" height="4.69" fill="#f0f0ff"/><rect x="225.28" y="515.68" width="3.86" height="4.69" fill="#e2e2ff"/><rect x="225.28" y="520.32" width="3.86" height="4.69" fill="#f0f0ff"/><rect x="225.28" y="524.96" width="3.86" height="4.69" fill="#e2e2ff"/><rect x="225.28" y="529.60" width="3.86" height="4.69" fill="#f0f0ff"/><rect x="225.28" y="534.24" width="3.86" height="4.69" fill="#f0f0ff"/><rect x="225.28" y="538.88" width="3.86" height="4.69" fill="#e2e2ff"/><rect x="225.28" y="548.16" width="3.86" height="4.69" fill="#f0f0ff"/><rect x="229.09" y="478.56" width="3.86" height="4.69" fill="#f0f0ff"/><rect x="229.09" y="483.20" width="3.86" height="4.69" fill="#f0f0ff"/><rect x="232.90" y="450.72" width="3.86" height="4.69" fill="#fafaff"/><rect x="232.90" y="473.92" width="3.86" height="4.69" fill="#fafaff"/><rect x="232.90" y="478.56" width="3.86" height="4.69" fill="#d3d3ff"/><rect x="232.90" y="483.20" width="3.86" height="4.69" fill="#a3a3ff"/><rect x="232.90" y="487.84" width="3.86" height="4.69" fill="#fafaff"/><rect x="236.71" y="427.52" width="3.86" height="4.69" fill="#fafaff"/><rect x="236.71" y="455.36" width="3.86" height="4.69" fill="#fafaff"/><rect x="236.71" y="473.92" width="3.86" height="4.69" fill="#fafaff"/><rect x="236.71" y="478.56" width="3.86" height="4.69" fill="#fafaff"/><rect x="236.71" y="483.20" width="3.86" height="4.69" fill="#fafaff"/><rect x="240.52" y="473.92" width="3.86" height="4.69" fill="#e2e2ff"/><rect x="240.52" y="478.56" width="3.86" height="4.69" fill="#c0c0ff"/><rect x="240.52" y="497.12" width="3.86" height="4.69" fill="#fafaff"/></g></g>
</g>
<line x1="72.10" y1="404.9" x2="72.10" y2="674.7" stroke="#1a1a1a" stroke-width="1.3"/>
<line x1="112.06" y1="404.9" x2="112.06" y2="674.7" stroke="#1a1a1a" stroke-width="1.3"/>
<line x1="152.03" y1="404.9" x2="152.03" y2="674.7" stroke="#1a1a1a" stroke-width="1.3"/>
<line x1="192.00" y1="404.9" x2="192.00" y2="674.7" stroke="#1a1a1a" stroke-width="1.3"/>
<line x1="231.96" y1="404.9" x2="231.96" y2="674.7" stroke="#1a1a1a" stroke-width="1.3"/>
<line x1="271.92" y1="404.9" x2="271.92" y2="674.7" stroke="#1a1a1a" stroke-width="1.3"/>
<line x1="311.89" y1="404.9" x2="311.89" y2="674.7" stroke="#1a1a1a" stroke-width="1.3"/>
<line x1="52" y1="654.30" x2="321.5" y2="654.30" stroke="#1a1a1a" stroke-width="1.3"/>
<text x="38.80" y="654.30" font-family="'Liberation Sans', sans-serif" font-size="17" text-anchor="middle" font-weight="normal" font-style="normal" fill="#000" transform="rotate(-90 38.8 654.3)" stroke="#000" stroke-width="0.3">0.1</text>
<line x1="52" y1="614.33" x2="321.5" y2="614.33" stroke="#1a1a1a" stroke-width="1.3"/>
<text x="38.80" y="614.33" font-family="'Liberation Sans', sans-serif" font-size="17" text-anchor="middle" font-weight="normal" font-style="normal" fill="#000" transform="rotate(-90 38.8 614.3299999999999)" stroke="#000" stroke-width="0.3">0.2</text>
<line x1="52" y1="574.36" x2="321.5" y2="574.36" stroke="#1a1a1a" stroke-width="1.3"/>
<text x="38.80" y="574.36" font-family="'Liberation Sans', sans-serif" font-size="17" text-anchor="middle" font-weight="normal" font-style="normal" fill="#000" transform="rotate(-90 38.8 574.3599999999999)" stroke="#000" stroke-width="0.3">0.3</text>
<line x1="52" y1="534.39" x2="321.5" y2="534.39" stroke="#1a1a1a" stroke-width="1.3"/>
<text x="38.80" y="534.39" font-family="'Liberation Sans', sans-serif" font-size="17" text-anchor="middle" font-weight="normal" font-style="normal" fill="#000" transform="rotate(-90 38.8 534.39)" stroke="#000" stroke-width="0.3">0.4</text>
<line x1="52" y1="494.42" x2="321.5" y2="494.42" stroke="#1a1a1a" stroke-width="1.3"/>
<text x="38.80" y="494.42" font-family="'Liberation Sans', sans-serif" font-size="17" text-anchor="middle" font-weight="normal" font-style="normal" fill="#000" transform="rotate(-90 38.8 494.41999999999996)" stroke="#000" stroke-width="0.3">0.5</text>
<line x1="52" y1="454.45" x2="321.5" y2="454.45" stroke="#1a1a1a" stroke-width="1.3"/>
<text x="38.80" y="454.45" font-family="'Liberation Sans', sans-serif" font-size="17" text-anchor="middle" font-weight="normal" font-style="normal" fill="#000" transform="rotate(-90 38.8 454.44999999999993)" stroke="#000" stroke-width="0.3">0.6</text>
<line x1="52" y1="414.48" x2="321.5" y2="414.48" stroke="#1a1a1a" stroke-width="1.3"/>
<text x="38.80" y="414.48" font-family="'Liberation Sans', sans-serif" font-size="17" text-anchor="middle" font-weight="normal" font-style="normal" fill="#000" transform="rotate(-90 38.8 414.4799999999999)" stroke="#000" stroke-width="0.3">0.7</text>
<text x="72.10" y="700.60" font-family="'Liberation Sans', sans-serif" font-size="17" text-anchor="middle" font-weight="normal" font-style="normal" fill="#000" stroke="#000" stroke-width="0.3">0.15</text>
<text x="152.03" y="700.60" font-family="'Liberation Sans', sans-serif" font-size="17" text-anchor="middle" font-weight="normal" font-style="normal" fill="#000" stroke="#000" stroke-width="0.3">0.25</text>
<text x="231.96" y="700.60" font-family="'Liberation Sans', sans-serif" font-size="17" text-anchor="middle" font-weight="normal" font-style="normal" fill="#000" stroke="#000" stroke-width="0.3">0.35</text>
<text x="311.89" y="700.60" font-family="'Liberation Sans', sans-serif" font-size="17" text-anchor="middle" font-weight="normal" font-style="normal" fill="#000" stroke="#000" stroke-width="0.3">0.45</text>
<rect x="62.3" y="404.9" width="259.2" height="258.9" fill="none" stroke="#000" stroke-width="1.3"/>
<rect x="259.5" y="404.9" width="62" height="231.3" fill="#fff" stroke="#000" stroke-width="1.3"/>
<text x="290.30" y="424.60" font-family="'Liberation Sans', sans-serif" font-size="15.2" text-anchor="middle" font-weight="normal" font-style="normal" fill="#000" stroke="#000" stroke-width="0.3"># fixes</text>
<text x="287.90" y="449.60" font-family="'Liberation Sans', sans-serif" font-size="15.2" text-anchor="start" font-weight="normal" font-style="normal" fill="#000" stroke="#000" stroke-width="0.3">1</text>
<circle cx="273.9" cy="463.10" r="4.2" fill="#9999ff"/>
<text x="287.90" y="468.90" font-family="'Liberation Sans', sans-serif" font-size="15.2" text-anchor="start" font-weight="normal" font-style="normal" fill="#000" stroke="#000" stroke-width="0.3">22</text>
<circle cx="273.9" cy="482.40" r="4.2" fill="#3333ff"/>
<text x="287.90" y="488.20" font-family="'Liberation Sans', sans-serif" font-size="15.2" text-anchor="start" font-weight="normal" font-style="normal" fill="#000" stroke="#000" stroke-width="0.3">44</text>
<circle cx="273.9" cy="501.70" r="4.2" fill="#0a2ad6"/>
<text x="287.90" y="507.50" font-family="'Liberation Sans', sans-serif" font-size="15.2" text-anchor="start" font-weight="normal" font-style="normal" fill="#000" stroke="#000" stroke-width="0.3">65</text>
<circle cx="273.9" cy="521.00" r="4.2" fill="#009966"/>
<text x="287.90" y="526.80" font-family="'Liberation Sans', sans-serif" font-size="15.2" text-anchor="start" font-weight="normal" font-style="normal" fill="#000" stroke="#000" stroke-width="0.3">87</text>
<circle cx="273.9" cy="540.30" r="4.2" fill="#00ff1a"/>
<text x="287.90" y="546.10" font-family="'Liberation Sans', sans-serif" font-size="15.2" text-anchor="start" font-weight="normal" font-style="normal" fill="#000" stroke="#000" stroke-width="0.3">108</text>
<circle cx="273.9" cy="559.60" r="4.2" fill="#66ff11"/>
<text x="287.90" y="565.40" font-family="'Liberation Sans', sans-serif" font-size="15.2" text-anchor="start" font-weight="normal" font-style="normal" fill="#000" stroke="#000" stroke-width="0.3">129</text>
<circle cx="273.9" cy="578.90" r="4.2" fill="#ccff00"/>
<text x="287.90" y="584.70" font-family="'Liberation Sans', sans-serif" font-size="15.2" text-anchor="start" font-weight="normal" font-style="normal" fill="#000" stroke="#000" stroke-width="0.3">151</text>
<circle cx="273.9" cy="598.20" r="4.2" fill="#ffc800"/>
<text x="287.90" y="604.00" font-family="'Liberation Sans', sans-serif" font-size="15.2" text-anchor="start" font-weight="normal" font-style="normal" fill="#000" stroke="#000" stroke-width="0.3">172</text>
<circle cx="273.9" cy="617.50" r="4.2" fill="#ff6600"/>
<text x="287.90" y="623.30" font-family="'Liberation Sans', sans-serif" font-size="15.2" text-anchor="start" font-weight="normal" font-style="normal" fill="#000" stroke="#000" stroke-width="0.3">194</text>
<text x="195.40" y="444.80" font-family="'Liberation Sans', sans-serif" font-size="16" stroke="#000" stroke-width="0.3">P</text><text x="206.10" y="448.00" font-family="'Liberation Sans', sans-serif" font-size="11" stroke="#000" stroke-width="0.1">p1</text><line x1="222.60" y1="441.60" x2="223.80" y2="465.50" stroke="#000" stroke-width="1.5"/><polyline points="218.64,457.52 223.80,465.50 228.13,457.04" fill="none" stroke="#000" stroke-width="1.5"/><text x="82.50" y="481.60" font-family="'Liberation Sans', sans-serif" font-size="16" stroke="#000" stroke-width="0.3">P</text><text x="92.90" y="484.80" font-family="'Liberation Sans', sans-serif" font-size="11" stroke="#000" stroke-width="0.1">p2</text><line x1="89.60" y1="478.70" x2="91.90" y2="518.40" stroke="#000" stroke-width="1.5"/><polyline points="86.68,510.46 91.90,518.40 96.17,509.91" fill="none" stroke="#000" stroke-width="1.5"/><text x="114.90" y="514.70" font-family="'Liberation Sans', sans-serif" font-size="16" stroke="#000" stroke-width="0.3">P</text><text x="126.20" y="517.80" font-family="'Liberation Sans', sans-serif" font-size="11" stroke="#000" stroke-width="0.1">a</text><line x1="131.60" y1="510.50" x2="152.10" y2="531.80" stroke="#000" stroke-width="1.5"/><polyline points="142.97,529.17 152.10,531.80 149.82,522.58" fill="none" stroke="#000" stroke-width="1.5"/><text x="157.10" y="512.80" font-family="'Liberation Sans', sans-serif" font-size="16" stroke="#000" stroke-width="0.3">P</text><text x="168.30" y="515.90" font-family="'Liberation Sans', sans-serif" font-size="11" stroke="#000" stroke-width="0.1">t</text><line x1="171.50" y1="508.70" x2="177.60" y2="532.60" stroke="#000" stroke-width="1.5"/><polyline points="170.96,525.80 177.60,532.60 180.17,523.45" fill="none" stroke="#000" stroke-width="1.5"/><text x="156.00" y="569.20" font-family="'Liberation Sans', sans-serif" font-size="16" stroke="#000" stroke-width="0.3">P</text><text x="166.70" y="572.30" font-family="'Liberation Sans', sans-serif" font-size="11" stroke="#000" stroke-width="0.1">r</text><line x1="171.00" y1="564.70" x2="177.60" y2="592.80" stroke="#000" stroke-width="1.5"/><polyline points="171.09,585.88 177.60,592.80 180.34,583.70" fill="none" stroke="#000" stroke-width="1.5"/>
<text x="191.90" y="721.00" font-family="'Liberation Sans', sans-serif" font-size="17.5" text-anchor="middle" font-weight="normal" font-style="normal" fill="#000" >x</text>
<text x="17.30" y="534.50" font-family="'Liberation Sans', sans-serif" font-size="17" text-anchor="middle" font-weight="normal" font-style="normal" fill="#000" transform="rotate(-90 17.3 534.5)" >y</text>
</g>
<rect x="428.3" y="836.6" width="227.2" height="134.6" fill="none" stroke="#000" stroke-width="1.1"/>
<line x1="428.3" y1="856.3" x2="655.5" y2="856.3" stroke="#000" stroke-width="1.1"/>
<text x="436.8" y="850.7" font-family="'Liberation Serif', serif" font-size="16" textLength="52.9" lengthAdjust="spacingAndGlyphs">location</text>
<text x="506.4" y="850.7" font-family="'Liberation Serif', serif" font-size="16" textLength="74.3" lengthAdjust="spacingAndGlyphs">description</text>
<text x="437.2" y="870.90" font-family="'Liberation Serif', serif" font-size="17" font-style="italic">P<tspan font-size="11.5" dy="3">a</tspan></text>
<text x="506.4" y="870.9" font-family="'Liberation Serif', serif" font-size="16" textLength="132.0" lengthAdjust="spacingAndGlyphs">position of accident</text>
<text x="437.2" y="889.68" font-family="'Liberation Serif', serif" font-size="17" font-style="italic">P<tspan font-size="11.5" dy="3">h</tspan></text>
<text x="506.4" y="889.68" font-family="'Liberation Serif', serif" font-size="16" textLength="53.8" lengthAdjust="spacingAndGlyphs">hospital</text>
<text x="437.2" y="908.46" font-family="'Liberation Serif', serif" font-size="17" font-style="italic">P<tspan font-size="11.5" dy="3">t</tspan></text>
<text x="506.4" y="908.46" font-family="'Liberation Serif', serif" font-size="16" textLength="101.2" lengthAdjust="spacingAndGlyphs">treatment area</text>
<text x="437.2" y="927.24" font-family="'Liberation Serif', serif" font-size="17" font-style="italic">P<tspan font-size="11.5" dy="3">r</tspan></text>
<text x="506.4" y="927.24" font-family="'Liberation Serif', serif" font-size="16" textLength="59.1" lengthAdjust="spacingAndGlyphs">rest area</text>
<text x="437.2" y="946.02" font-family="'Liberation Serif', serif" font-size="17" font-style="italic">P<tspan font-size="11.5" dy="3">p</tspan><tspan font-size="11.5" font-style="normal">1</tspan></text>
<text x="506.4" y="946.02" font-family="'Liberation Serif', serif" font-size="16" textLength="141.4" lengthAdjust="spacingAndGlyphs">ambulance parking 1</text>
<text x="437.2" y="964.80" font-family="'Liberation Serif', serif" font-size="17" font-style="italic">P<tspan font-size="11.5" dy="3">p</tspan><tspan font-size="11.5" font-style="normal">2</tspan></text>
<text x="506.4" y="964.8" font-family="'Liberation Serif', serif" font-size="16" textLength="141.4" lengthAdjust="spacingAndGlyphs">ambulance parking 2</text></svg></body></html>
